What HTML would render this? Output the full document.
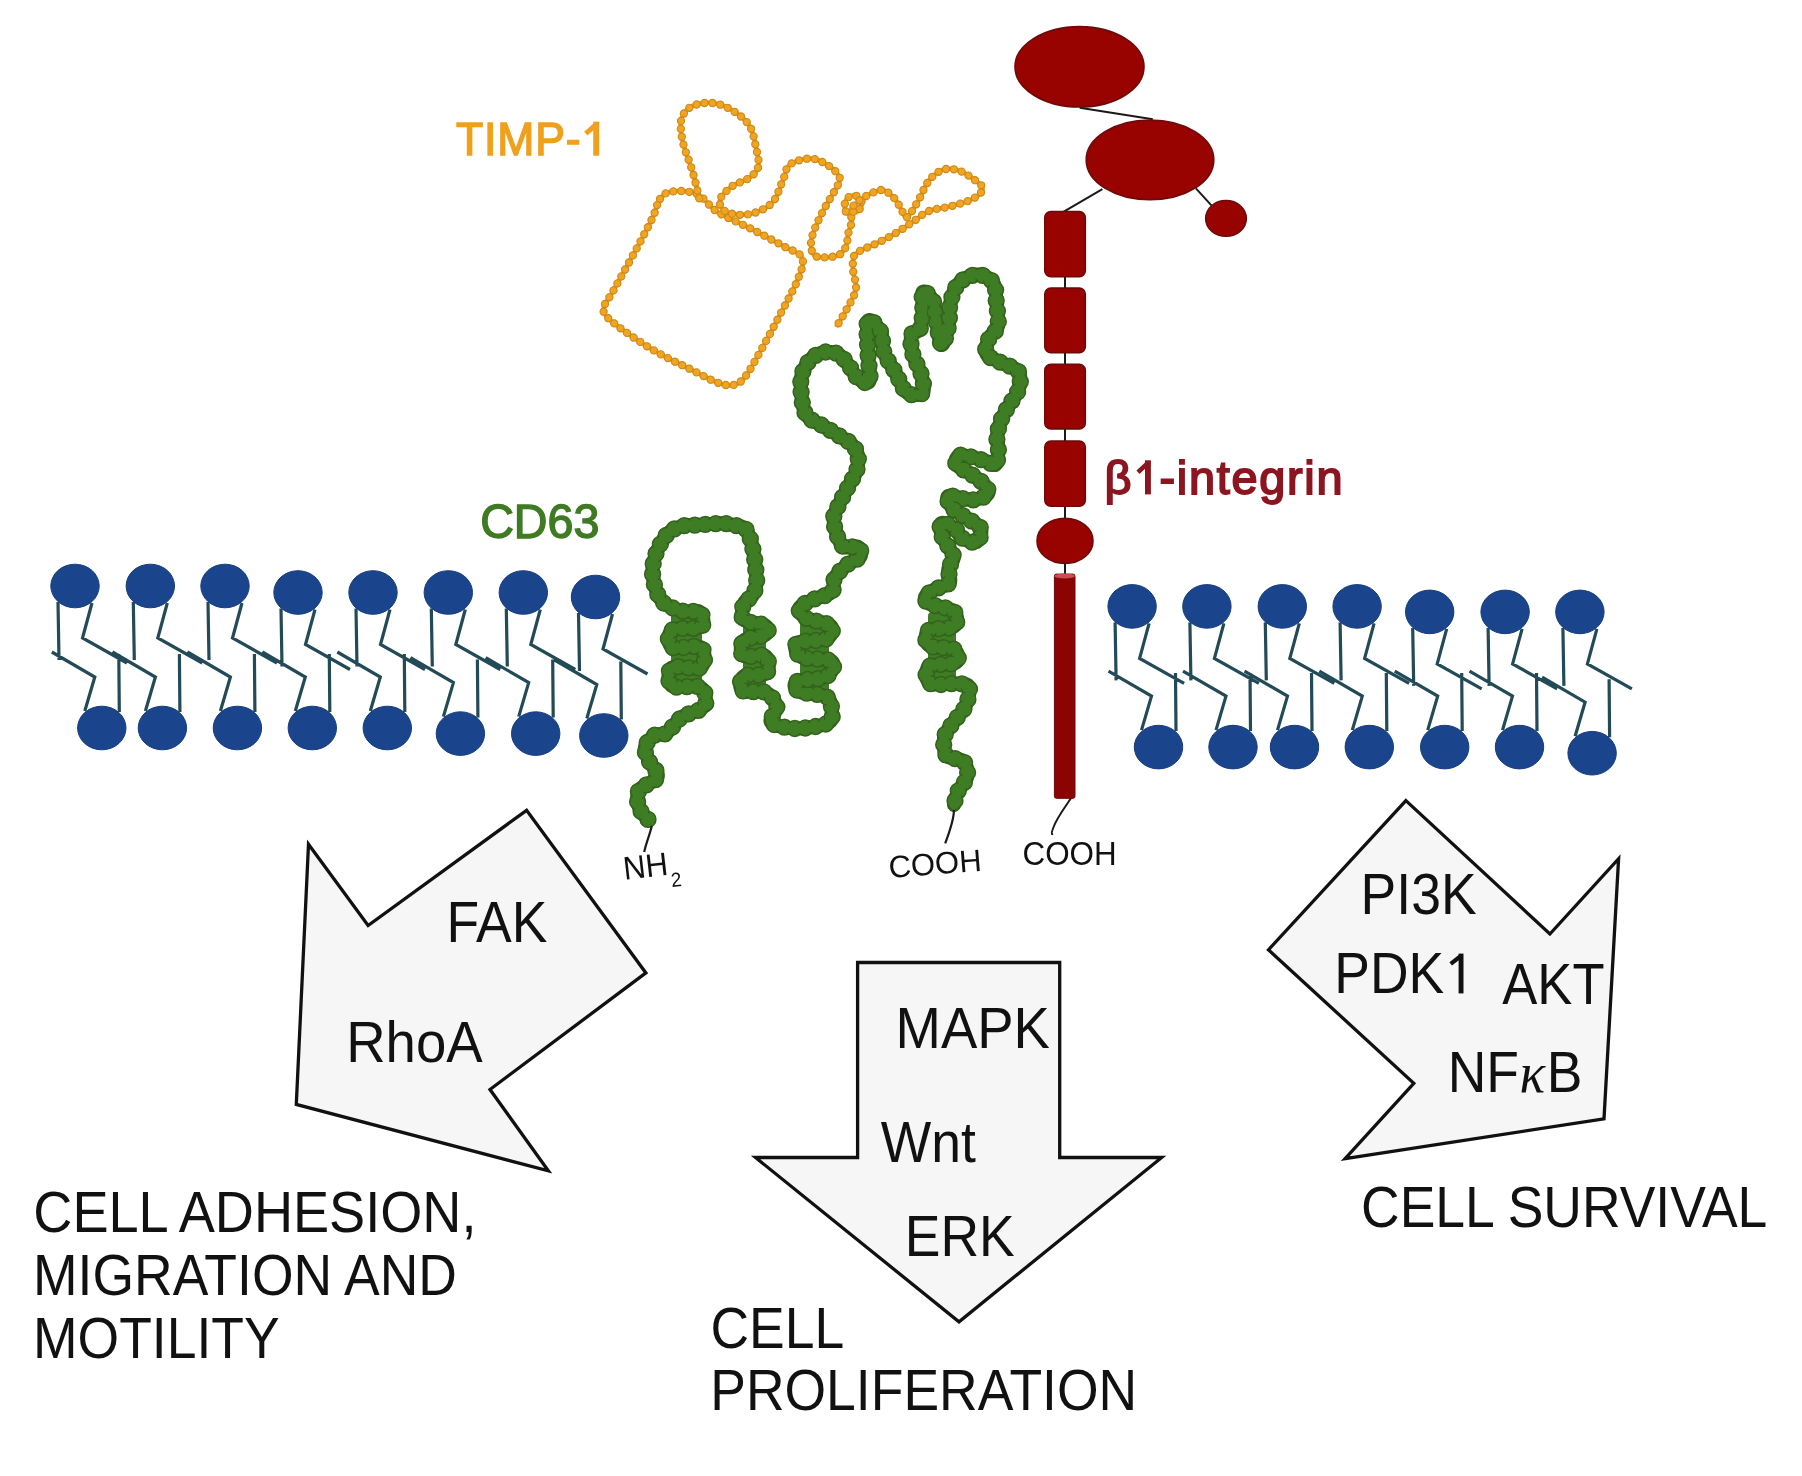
<!DOCTYPE html>
<html><head><meta charset="utf-8"><title>TIMP-1 CD63 integrin</title><style>html,body{margin:0;padding:0;background:#ffffff;overflow:hidden}svg{display:block;will-change:transform}</style></head><body>
<svg width="1802" height="1476" viewBox="0 0 1802 1476"><rect width="1802" height="1476" fill="#ffffff"/><path d="M58,602L59,660M92,603L82.5,638L127,663M119.3,712L118.8,654M51.8,652L94.8,677L84.8,711M133.3,602L134.3,660M167.3,603L157.8,638L202.3,663M179.9,712L179.4,654M112.4,652L155.4,677L145.4,711M208,602L209,660M242,603L232.5,638L277,663M254.9,712L254.4,654M187.4,652L230.4,677L220.4,711M281,608.5L282,666.5M315,609.5L305.5,644.5L350,669.5M329.8,712L329.3,654M262.3,652L305.3,677L295.3,711M356,608.5L357,666.5M390,609.5L380.5,644.5L425,669.5M404.8,712L404.3,654M337.3,652L380.3,677L370.3,711M431.3,608.5L432.3,666.5M465.3,609.5L455.8,644.5L500.3,669.5M477.9,717.6L477.4,659.6M410.4,657.6L453.4,682.6L443.4,716.6M506.3,608.5L507.3,666.5M540.3,609.5L530.8,644.5L575.3,669.5M553.2,717.6L552.7,659.6M485.7,657.6L528.7,682.6L518.7,716.6M578.5,613L579.5,671M612.5,614L603,649L647.5,674M621.3,719.5L620.8,661.5M553.8,659.5L596.8,684.5L586.8,718.5M1115.1,622.4L1116.1,680.4M1149.1,623.4L1139.6,658.4L1184.1,683.4M1176,731.1L1175.5,673.1M1108.5,671.1L1151.5,696.1L1141.5,730.1M1189.9,622.4L1190.9,680.4M1223.9,623.4L1214.4,658.4L1258.9,683.4M1250.5,731.1L1250,673.1M1183,671.1L1226,696.1L1216,730.1M1265.3,622.4L1266.3,680.4M1299.3,623.4L1289.8,658.4L1334.3,683.4M1312,731.1L1311.5,673.1M1244.5,671.1L1287.5,696.1L1277.5,730.1M1340.1,622.4L1341.1,680.4M1374.1,623.4L1364.6,658.4L1409.1,683.4M1386.8,731.1L1386.3,673.1M1319.3,671.1L1362.3,696.1L1352.3,730.1M1412.7,627.9L1413.7,685.9M1446.7,628.9L1437.2,663.9L1481.7,688.9M1462.2,731.1L1461.7,673.1M1394.7,671.1L1437.7,696.1L1427.7,730.1M1488.1,627.9L1489.1,685.9M1522.1,628.9L1512.6,663.9L1557.1,688.9M1537,731.1L1536.5,673.1M1469.5,671.1L1512.5,696.1L1502.5,730.1M1562.9,627.9L1563.9,685.9M1596.9,628.9L1587.4,663.9L1631.9,688.9M1609.6,737.2L1609.1,679.2M1542.1,677.2L1585.1,702.2L1575.1,736.2" fill="none" stroke="#234a57" stroke-width="3.2" stroke-linecap="butt" stroke-linejoin="miter"/>
<g fill="#1a458d" stroke="#173d7c" stroke-width="1"><ellipse cx="75" cy="586" rx="24.2" ry="21.8"/><ellipse cx="150.3" cy="586" rx="24.2" ry="21.8"/><ellipse cx="225" cy="586" rx="24.2" ry="21.8"/><ellipse cx="298" cy="592.5" rx="24.2" ry="21.8"/><ellipse cx="373" cy="592.5" rx="24.2" ry="21.8"/><ellipse cx="448.3" cy="592.5" rx="24.2" ry="21.8"/><ellipse cx="523.3" cy="592.5" rx="24.2" ry="21.8"/><ellipse cx="595.5" cy="597" rx="24.2" ry="21.8"/><ellipse cx="101.8" cy="728" rx="24.2" ry="21.8"/><ellipse cx="162.4" cy="728" rx="24.2" ry="21.8"/><ellipse cx="237.4" cy="728" rx="24.2" ry="21.8"/><ellipse cx="312.3" cy="728" rx="24.2" ry="21.8"/><ellipse cx="387.3" cy="728" rx="24.2" ry="21.8"/><ellipse cx="460.4" cy="733.6" rx="24.2" ry="21.8"/><ellipse cx="535.7" cy="733.6" rx="24.2" ry="21.8"/><ellipse cx="603.8" cy="735.5" rx="24.2" ry="21.8"/><ellipse cx="1132.1" cy="606.4" rx="24.2" ry="21.8"/><ellipse cx="1206.9" cy="606.4" rx="24.2" ry="21.8"/><ellipse cx="1282.3" cy="606.4" rx="24.2" ry="21.8"/><ellipse cx="1357.1" cy="606.4" rx="24.2" ry="21.8"/><ellipse cx="1429.7" cy="611.9" rx="24.2" ry="21.8"/><ellipse cx="1505.1" cy="611.9" rx="24.2" ry="21.8"/><ellipse cx="1579.9" cy="611.9" rx="24.2" ry="21.8"/><ellipse cx="1158.5" cy="747.1" rx="24.2" ry="21.8"/><ellipse cx="1233" cy="747.1" rx="24.2" ry="21.8"/><ellipse cx="1294.5" cy="747.1" rx="24.2" ry="21.8"/><ellipse cx="1369.3" cy="747.1" rx="24.2" ry="21.8"/><ellipse cx="1444.7" cy="747.1" rx="24.2" ry="21.8"/><ellipse cx="1519.5" cy="747.1" rx="24.2" ry="21.8"/><ellipse cx="1592.1" cy="753.2" rx="24.2" ry="21.8"/></g>
<g stroke="#1a1a1a" stroke-width="2" fill="none"><path d="M1079.7,107.8L1152.8,119.2"/><path d="M1102.4,189.1L1063.4,211.9"/><path d="M1195.9,188.3L1211.4,205.4"/><path d="M1065,276L1065,575"/><path d="M1071.7,797C1066,806 1058,816 1054,826S1052.5,832 1052.2,835"/></g>
<g fill="#980300" stroke="#6e0a0a" stroke-width="1.6"><ellipse cx="1079.5" cy="66.8" rx="64.5" ry="40.2"/><ellipse cx="1150" cy="159.9" rx="63.8" ry="39.8"/><ellipse cx="1226" cy="218.4" rx="20.3" ry="17.9"/><rect x="1044.8" y="211.6" width="40.5" height="65.2" rx="6"/><rect x="1044.8" y="288.1" width="40.5" height="64.7" rx="6"/><rect x="1044.8" y="364.4" width="40.5" height="64.5" rx="6"/><rect x="1044.8" y="441" width="40.5" height="65.2" rx="6"/><ellipse cx="1065" cy="540.9" rx="28" ry="22.5"/></g>
<rect x="1054.4" y="574.1" width="20.6" height="224.2" rx="2" fill="#8c0303" stroke="#6a0808" stroke-width="1"/>
<ellipse cx="1064.7" cy="576" rx="10.3" ry="2.6" fill="#c85050"/>
<path d="M660,199 661,197.7 661.9,196.5 662.9,195.5 663.9,194.6 664.9,193.8 666.1,193.2 667.3,192.6 668.7,192.2 670.3,191.8 672,191.5 674,191.3 676.2,191.1 678.7,191 681.3,191 684,191.2 686.7,191.4 689.4,191.8 692.1,192.3 694.6,193.1 697,194 699.2,195.2 701.2,196.6 703.1,198.3 704.9,200.2 706.8,202.2 708.6,204.2 710.6,206.3 712.7,208.3 714.9,210.2 717.4,212 720.1,213.7 723,215.3 726.1,216.9 729.2,218.4 732.5,219.9 735.8,221.5 739.2,223 742.6,224.6 746,226.2 749.3,227.9 752.7,229.7 756.2,231.5 759.9,233.4 763.5,235.3 767.2,237.3 770.8,239.2 774.2,241.1 777.5,242.9 780.6,244.5 783.4,246.1 786,247.5 788.5,248.7 790.8,249.7 793,250.7 795.1,251.6 796.9,252.6 798.5,253.6 800,254.7 801.1,256 802,257.5 802.6,259.1 802.9,260.8 803,262.5 802.8,264.3 802.5,266.3 801.9,268.3 801.2,270.5 800.3,272.9 799.4,275.4 798.3,278.2 797.1,281.2 795.6,284.5 793.9,288 792.1,291.7 790.2,295.5 788.1,299.4 786.1,303.3 784,307.2 782,311 780,314.8 778,318.6 776,322.4 774,326.3 771.9,330.2 769.8,334.1 767.7,338 765.7,341.7 763.7,345.3 761.8,348.8 760,352 758.3,355.1 756.6,358.1 755,360.9 753.5,363.7 752,366.3 750.5,368.8 749.1,371.1 747.7,373.3 746.3,375.2 745,377 743.7,378.5 742.5,379.9 741.4,381 740.3,381.9 739.2,382.7 738.1,383.4 737,383.9 735.9,384.3 734.6,384.7 733.3,385 731.9,385.2 730.6,385.4 729.2,385.4 727.8,385.3 726.3,385.1 724.8,384.9 723.1,384.5 721.4,384 719.5,383.3 717.4,382.6 715.1,381.7 712.7,380.6 710.2,379.4 707.5,378.1 704.7,376.7 701.8,375.2 698.9,373.6 695.9,372.1 693,370.5 690,369 687,367.5 683.9,366 680.7,364.4 677.5,362.9 674.2,361.3 670.9,359.7 667.7,358 664.5,356.4 661.4,354.7 658.3,353 655.3,351.3 652.3,349.5 649.4,347.7 646.4,345.9 643.5,344.1 640.7,342.2 637.9,340.4 635.2,338.6 632.6,336.8 630,335 627.5,333.2 624.9,331.4 622.4,329.6 619.9,327.8 617.5,326 615.2,324.3 613.1,322.6 611.2,321 609.5,319.4 608,318 606.8,316.7 605.8,315.6 605,314.5 604.4,313.6 603.9,312.7 603.6,311.8 603.4,310.8 603.4,309.8 603.5,308.7 603.7,307.5 604,306.2 604.4,305.1 605,303.9 605.7,302.7 606.6,301.5 607.5,300 608.6,298.4 609.9,296.5 611.3,294.2 612.8,291.6 614.5,288.5 616.6,284.9 618.8,280.8 621.2,276.6 623.7,272.1 626.2,267.5 628.7,263 631.1,258.6 633.4,254.4 635.5,250.6 637.4,247 639.3,243.5 641.2,240.1 643,236.7 644.7,233.5 646.3,230.4 647.9,227.3 649.3,224.4 650.7,221.6 652,219 653.1,216.5 654.1,214.1 654.9,211.8 655.6,209.6 656.3,207.5 656.9,205.5 657.6,203.7 658.3,202 659.1,200.4 660,199M699.2,198.3 698.8,196.7 698.3,194.6 697.7,192.1 697.1,189.3 696.4,186.4 695.6,183.2 694.8,180 694,176.9 693.2,173.9 692.4,171 691.6,168.2 690.6,165.5 689.6,162.7 688.6,159.9 687.6,157.1 686.6,154.3 685.6,151.6 684.7,148.9 683.9,146.2 683.3,143.7 682.7,141.2 682.2,138.7 681.8,136.3 681.3,133.9 681,131.5 680.8,129.2 680.6,127 680.6,124.9 680.7,122.9 681,121 681.4,119.2 681.9,117.5 682.5,115.9 683.3,114.4 684.1,113 685.1,111.7 686.2,110.5 687.4,109.3 688.7,108.3 690.1,107.3 691.7,106.4 693.5,105.6 695.4,104.9 697.5,104.3 699.6,103.8 701.9,103.3 704.1,103 706.3,102.8 708.5,102.8 710.6,102.8 712.7,103 714.7,103.3 716.8,103.7 718.9,104.3 721,104.9 723.1,105.7 725.1,106.5 727.1,107.5 729.1,108.5 731.1,109.6 733.1,110.8 735.1,112.1 737.1,113.5 739.1,115 741.1,116.5 743,118.2 744.8,119.9 746.4,121.7 748,123.6 749.3,125.5 750.5,127.5 751.5,129.7 752.3,132 753.1,134.3 753.7,136.8 754.3,139.2 754.7,141.6 755.2,143.9 755.7,146.2 756.1,148.3 756.6,150.3 757,152.3 757.5,154.3 757.9,156.2 758.2,158.1 758.5,159.9 758.7,161.7 758.7,163.4 758.7,165 758.4,166.5 758,167.9 757.5,169.2 756.8,170.5 756,171.6 755.1,172.7 754.1,173.8 753.1,174.8 751.9,175.8 750.6,176.8 749.3,177.8 747.8,178.8 746.1,179.7 744.3,180.5 742.3,181.4 740.3,182.2 738.3,183 736.3,183.9 734.5,184.8 732.7,185.8 731.1,186.9 729.6,188.1 728.1,189.4 726.6,190.7 725.2,192.2 723.8,193.6 722.6,195.1 721.6,196.5 720.7,197.9 720.1,199.3 719.7,200.6 719.6,201.9 719.6,203.2 719.9,204.5 720.3,205.8 721,207 721.8,208.2 722.7,209.3 723.8,210.3 725.1,211.2 726.5,212 728.1,212.7 730,213.2 732.2,213.8 734.5,214.2 736.9,214.5 739.4,214.7 742,214.8 744.5,214.8 747,214.6 749.3,214.2 751.6,213.7 754,213 756.5,212.2 758.9,211.2 761.4,210.1 763.8,208.9 766.1,207.6 768.2,206.1 770.2,204.6 772,202.9 773.6,201 775,198.9 776.3,196.6 777.4,194.2 778.5,191.7 779.5,189.2 780.4,186.7 781.3,184.3 782.1,182 783,180 783.8,178.1 784.4,176.3 784.9,174.6 785.4,172.9 785.8,171.3 786.3,169.8 786.9,168.4 787.6,167.1 788.6,165.8 789.8,164.7 791.3,163.7 793.1,162.7 795.1,161.7 797.2,160.9 799.4,160.2 801.7,159.6 804,159.1 806.3,158.7 808.5,158.5 810.5,158.5 812.5,158.7 814.4,159 816.4,159.6 818.3,160.3 820.3,161.1 822.1,161.9 823.9,162.9 825.6,163.9 827.3,164.9 828.8,165.9 830.3,166.9 831.7,168 833.1,169.2 834.5,170.4 835.8,171.7 836.9,173 837.9,174.3 838.7,175.6 839.4,176.9 839.8,178.1 840,179.3 840,180.4 839.8,181.4 839.4,182.5 838.8,183.5 838.2,184.7 837.5,185.9 836.6,187.2 835.8,188.7 834.9,190.3 833.9,192.1 832.8,194.1 831.5,196.3 830.2,198.5 828.8,200.9 827.4,203.3 825.9,205.7 824.5,208.2 823.2,210.6 822,213 820.8,215.4 819.6,218 818.4,220.6 817.1,223.2 816,225.9 814.9,228.5 813.9,231 813,233.5 812.2,235.8 811.7,237.9 811.3,239.9 811.1,241.9 811,243.7 811,245.5 811.1,247.2 811.3,248.8 811.6,250.2 812,251.6 812.5,252.7 813,253.8 813.6,254.7 814.3,255.4 815.1,256 816,256.4 816.9,256.7 818,257 819.1,257.1 820.2,257.3 821.4,257.3 822.7,257.4 824.1,257.4 825.6,257.4 827.3,257.3 829,257.2 830.8,257 832.6,256.7 834.3,256.4 835.9,256 837.3,255.5 838.6,255 839.7,254.4 840.7,253.8 841.6,253.1 842.4,252.3 843.1,251.4 843.8,250.6 844.4,249.6 845,248.6 845.5,247.6 846,246.5 846.4,245.4 846.8,244.1 847,242.8 847.3,241.5 847.4,240.1 847.6,238.7 847.7,237.2 847.9,235.8 848.1,234.4 848.4,233 848.8,231.6 849.2,230.2 849.7,228.7 850.3,227.2 850.8,225.7 851.3,224.3 851.7,222.8 851.9,221.5 852.1,220.2 852,219 851.7,217.9 851.1,216.9 850.4,216 849.6,215.1 848.6,214.3 847.7,213.5 846.8,212.7 846,211.8 845.4,211 845,210 844.8,208.9 844.6,207.8 844.6,206.6 844.6,205.4 844.8,204.2 845,203 845.2,201.8 845.6,200.8 846,199.8 846.5,199 847.1,198.3 847.9,197.6 848.7,197.1 849.7,196.5 850.7,196.1 851.7,195.7 852.7,195.5 853.7,195.4 854.7,195.4 855.5,195.5 856.3,195.8 857.1,196.3 858,196.9 858.8,197.6 859.6,198.5 860.3,199.4 861,200.3 861.5,201.2 861.8,202.1 862,203 862,203.9 861.8,204.9 861.4,206 860.9,207.1 860.3,208.2 859.6,209.2 858.9,210.1 858.2,210.9 857.6,211.6 857,212 856.4,212.2 855.6,212.3 854.8,212.2 854,212 853.1,211.6 852.4,211.2 851.7,210.7 851.3,210.2 851,209.6 851,209 851.3,208.3 851.8,207.6 852.5,206.7 853.3,205.8 854.3,204.8 855.4,203.8 856.5,202.8 857.7,201.8 858.9,200.9 860,200 861.1,199.2 862.3,198.4 863.6,197.5 864.9,196.7 866.3,195.9 867.6,195.2 869,194.5 870.3,193.8 871.6,193.2 872.8,192.7 874,192.2 875.1,191.7 876.2,191.3 877.3,190.9 878.4,190.5 879.5,190.2 880.6,190.1 881.6,190 882.7,190.1 883.8,190.3 884.9,190.7 886.1,191.2 887.2,191.9 888.4,192.7 889.5,193.6 890.7,194.6 891.8,195.6 892.8,196.7 893.8,197.8 894.8,198.8 895.7,199.9 896.5,201.1 897.3,202.4 898.1,203.7 898.8,205 899.5,206.4 900.2,207.7 900.9,208.9 901.5,210 902.1,211 902.7,212 903.1,213 903.6,214 903.9,215 904.3,215.9 904.7,216.6 905.2,217.2 905.7,217.5 906.3,217.5 907,217.2 907.9,216.5 908.8,215.5 909.9,214.2 911,212.7 912.1,210.9 913.3,209.1 914.5,207.1 915.7,205.1 916.9,203.2 918,201.3 919.1,199.4 920.1,197.3 921.2,195.1 922.2,192.9 923.3,190.6 924.3,188.3 925.4,186.2 926.6,184.1 927.8,182.2 929,180.5 930.3,178.9 931.7,177.5 933.1,176.1 934.5,174.8 936,173.6 937.5,172.5 939,171.6 940.5,170.8 942.1,170.1 943.6,169.5 945.1,169.1 946.7,168.8 948.3,168.7 949.9,168.7 951.5,168.9 953.1,169.1 954.7,169.4 956.3,169.8 957.9,170.3 959.5,170.8 961.1,171.4 962.8,172.2 964.5,173.1 966.3,174.1 968,175.2 969.7,176.3 971.3,177.4 972.8,178.5 974.2,179.5 975.4,180.5 976.6,181.4 977.7,182.3 978.8,183.1 979.8,184 980.7,184.8 981.4,185.6 982,186.5 982.5,187.3 982.7,188.2 982.7,189.1 982.5,190 982,191 981.4,192 980.6,193 979.6,194 978.5,195 977.3,196 975.9,197 974.5,197.9 972.9,198.8 971.2,199.6 969.3,200.5 967.2,201.3 965,202.1 962.7,202.8 960.3,203.5 957.9,204.2 955.5,204.9 953.2,205.6 950.9,206.2 948.7,206.8 946.4,207.2 944.1,207.7 941.8,208.1 939.5,208.4 937.2,208.8 935,209.3 932.9,209.8 930.9,210.3 929,211 927.3,211.8 925.7,212.6 924.2,213.5 922.8,214.4 921.4,215.4 920.1,216.5 918.7,217.5 917.4,218.6 915.9,219.7 914.3,220.8 912.6,221.9 910.9,223.1 909.1,224.4 907.2,225.6 905.4,226.9 903.5,228.2 901.6,229.4 899.7,230.7 897.8,231.9 896,233 894.2,234.1 892.3,235.1 890.5,236.2 888.7,237.2 886.9,238.1 885,239.1 883.2,240 881.4,241 879.5,241.9 877.7,242.8 875.8,243.7 873.8,244.6 871.8,245.5 869.8,246.4 867.8,247.2 865.8,248.1 864,248.9 862.3,249.7 860.7,250.5 859.4,251.3 858.3,252 857.3,252.6 856.5,253.2 855.8,253.8 855.2,254.3 854.7,254.9 854.3,255.5 853.9,256.2 853.6,257 853.3,258 853,259.1 852.9,260.3 852.8,261.6 852.7,262.9 852.8,264.3 852.8,265.8 852.9,267.3 853,268.9 853.2,270.5 853.3,272.1 853.5,273.7 853.9,275.4 854.3,277.1 854.8,278.8 855.3,280.6 855.7,282.4 856,284.3 856.1,286.3 856,288.3 855.7,290.4 855,292.6 854.1,295.1 853,297.7 851.6,300.3 850.2,303 848.7,305.6 847.3,308.2 845.9,310.6 844.6,312.8 843.5,314.8 842.5,316.6 841.6,318.2 840.7,319.7 839.9,321.1 839.1,322.4 838.4,323.6 837.7,324.6 837.1,325.5 836.6,326.3 836.2,327" fill="none" stroke="#f2a31f" stroke-width="4.5" stroke-linejoin="round"/>
<g fill="#f2a31f" stroke="#c98a1c" stroke-width="1.1"><circle cx="660" cy="199" r="3.6"/><circle cx="665.6" cy="193.4" r="3.6"/><circle cx="673.3" cy="191.4" r="3.6"/><circle cx="681.3" cy="191" r="3.6"/><circle cx="689.3" cy="191.8" r="3.6"/><circle cx="696.9" cy="194" r="3.6"/><circle cx="703.4" cy="198.6" r="3.6"/><circle cx="708.9" cy="204.5" r="3.6"/><circle cx="714.6" cy="210" r="3.6"/><circle cx="721.3" cy="214.3" r="3.6"/><circle cx="728.4" cy="218" r="3.6"/><circle cx="735.7" cy="221.4" r="3.6"/><circle cx="742.9" cy="224.8" r="3.6"/><circle cx="750.1" cy="228.3" r="3.6"/><circle cx="757.2" cy="232" r="3.6"/><circle cx="764.3" cy="235.7" r="3.6"/><circle cx="771.3" cy="239.5" r="3.6"/><circle cx="778.4" cy="243.3" r="3.6"/><circle cx="785.4" cy="247.2" r="3.6"/><circle cx="792.6" cy="250.5" r="3.6"/><circle cx="799.6" cy="254.4" r="3.6"/><circle cx="802.9" cy="261.4" r="3.6"/><circle cx="801.6" cy="269.3" r="3.6"/><circle cx="798.8" cy="276.8" r="3.6"/><circle cx="795.8" cy="284.2" r="3.6"/><circle cx="792.3" cy="291.4" r="3.6"/><circle cx="788.6" cy="298.5" r="3.6"/><circle cx="784.9" cy="305.5" r="3.6"/><circle cx="781.1" cy="312.6" r="3.6"/><circle cx="777.4" cy="319.7" r="3.6"/><circle cx="773.7" cy="326.8" r="3.6"/><circle cx="769.9" cy="333.9" r="3.6"/><circle cx="766.1" cy="340.9" r="3.6"/><circle cx="762.3" cy="347.9" r="3.6"/><circle cx="758.4" cy="354.9" r="3.6"/><circle cx="754.5" cy="361.9" r="3.6"/><circle cx="750.5" cy="368.8" r="3.6"/><circle cx="746.1" cy="375.5" r="3.6"/><circle cx="740.8" cy="381.5" r="3.6"/><circle cx="733.7" cy="384.9" r="3.6"/><circle cx="725.8" cy="385" r="3.6"/><circle cx="718.1" cy="382.8" r="3.6"/><circle cx="710.7" cy="379.7" r="3.6"/><circle cx="703.6" cy="376.1" r="3.6"/><circle cx="696.5" cy="372.4" r="3.6"/><circle cx="689.4" cy="368.7" r="3.6"/><circle cx="682.2" cy="365.2" r="3.6"/><circle cx="675" cy="361.7" r="3.6"/><circle cx="667.9" cy="358.1" r="3.6"/><circle cx="660.8" cy="354.4" r="3.6"/><circle cx="653.8" cy="350.4" r="3.6"/><circle cx="647" cy="346.3" r="3.6"/><circle cx="640.3" cy="341.9" r="3.6"/><circle cx="633.6" cy="337.5" r="3.6"/><circle cx="627" cy="332.9" r="3.6"/><circle cx="620.5" cy="328.3" r="3.6"/><circle cx="614.2" cy="323.4" r="3.6"/><circle cx="608.2" cy="318.2" r="3.6"/><circle cx="603.6" cy="311.7" r="3.6"/><circle cx="605" cy="304" r="3.6"/><circle cx="609.4" cy="297.3" r="3.6"/><circle cx="613.5" cy="290.4" r="3.6"/><circle cx="617.4" cy="283.4" r="3.6"/><circle cx="621.3" cy="276.4" r="3.6"/><circle cx="625.1" cy="269.5" r="3.6"/><circle cx="629" cy="262.5" r="3.6"/><circle cx="632.9" cy="255.4" r="3.6"/><circle cx="636.7" cy="248.4" r="3.6"/><circle cx="640.5" cy="241.4" r="3.6"/><circle cx="644.2" cy="234.3" r="3.6"/><circle cx="647.9" cy="227.2" r="3.6"/><circle cx="651.5" cy="220" r="3.6"/><circle cx="654.6" cy="212.7" r="3.6"/><circle cx="657.1" cy="205.1" r="3.6"/><circle cx="699.2" cy="198.3" r="3.6"/><circle cx="697.4" cy="190.5" r="3.6"/><circle cx="695.5" cy="182.7" r="3.6"/><circle cx="693.5" cy="175" r="3.6"/><circle cx="691.2" cy="167.3" r="3.6"/><circle cx="688.6" cy="159.8" r="3.6"/><circle cx="685.8" cy="152.3" r="3.6"/><circle cx="683.5" cy="144.6" r="3.6"/><circle cx="681.8" cy="136.8" r="3.6"/><circle cx="680.8" cy="128.9" r="3.6"/><circle cx="681" cy="120.9" r="3.6"/><circle cx="683.9" cy="113.5" r="3.6"/><circle cx="689.4" cy="107.8" r="3.6"/><circle cx="696.7" cy="104.5" r="3.6"/><circle cx="704.5" cy="103" r="3.6"/><circle cx="712.5" cy="103" r="3.6"/><circle cx="720.3" cy="104.7" r="3.6"/><circle cx="727.7" cy="107.8" r="3.6"/><circle cx="734.6" cy="111.8" r="3.6"/><circle cx="741" cy="116.5" r="3.6"/><circle cx="746.7" cy="122.1" r="3.6"/><circle cx="751.1" cy="128.8" r="3.6"/><circle cx="753.6" cy="136.4" r="3.6"/><circle cx="755.3" cy="144.2" r="3.6"/><circle cx="757" cy="152" r="3.6"/><circle cx="758.5" cy="159.9" r="3.6"/><circle cx="758" cy="167.8" r="3.6"/><circle cx="753.6" cy="174.3" r="3.6"/><circle cx="747.2" cy="179.1" r="3.6"/><circle cx="739.9" cy="182.4" r="3.6"/><circle cx="732.7" cy="185.8" r="3.6"/><circle cx="726.5" cy="190.9" r="3.6"/><circle cx="721.3" cy="196.9" r="3.6"/><circle cx="719.9" cy="204.5" r="3.6"/><circle cx="724.6" cy="210.9" r="3.6"/><circle cx="732" cy="213.7" r="3.6"/><circle cx="739.9" cy="214.8" r="3.6"/><circle cx="747.9" cy="214.4" r="3.6"/><circle cx="755.6" cy="212.5" r="3.6"/><circle cx="763" cy="209.3" r="3.6"/><circle cx="769.7" cy="205" r="3.6"/><circle cx="775" cy="199" r="3.6"/><circle cx="778.4" cy="191.8" r="3.6"/><circle cx="781.2" cy="184.3" r="3.6"/><circle cx="784.2" cy="176.9" r="3.6"/><circle cx="786.5" cy="169.3" r="3.6"/><circle cx="791.7" cy="163.4" r="3.6"/><circle cx="799.1" cy="160.3" r="3.6"/><circle cx="806.9" cy="158.7" r="3.6"/><circle cx="814.8" cy="159.1" r="3.6"/><circle cx="822.3" cy="162" r="3.6"/><circle cx="829.1" cy="166.1" r="3.6"/><circle cx="835.3" cy="171.2" r="3.6"/><circle cx="839.7" cy="177.8" r="3.6"/><circle cx="837.8" cy="185.3" r="3.6"/><circle cx="833.9" cy="192.2" r="3.6"/><circle cx="829.8" cy="199.1" r="3.6"/><circle cx="825.8" cy="206" r="3.6"/><circle cx="822" cy="213.1" r="3.6"/><circle cx="818.5" cy="220.3" r="3.6"/><circle cx="815.2" cy="227.6" r="3.6"/><circle cx="812.5" cy="235.1" r="3.6"/><circle cx="811" cy="242.9" r="3.6"/><circle cx="811.8" cy="250.8" r="3.6"/><circle cx="816.7" cy="256.7" r="3.6"/><circle cx="824.6" cy="257.4" r="3.6"/><circle cx="832.6" cy="256.7" r="3.6"/><circle cx="840.1" cy="254.2" r="3.6"/><circle cx="845.2" cy="248.1" r="3.6"/><circle cx="847.4" cy="240.5" r="3.6"/><circle cx="848.5" cy="232.6" r="3.6"/><circle cx="851" cy="225" r="3.6"/><circle cx="851.3" cy="217.2" r="3.6"/><circle cx="845.8" cy="211.5" r="3.6"/><circle cx="844.8" cy="203.8" r="3.6"/><circle cx="848.7" cy="197.1" r="3.6"/><circle cx="856.3" cy="195.8" r="3.6"/><circle cx="861.6" cy="201.6" r="3.6"/><circle cx="859.7" cy="209" r="3.6"/><circle cx="853.2" cy="211.7" r="3.6"/><circle cx="853.5" cy="205.6" r="3.6"/><circle cx="859.5" cy="200.3" r="3.6"/><circle cx="866.2" cy="196" r="3.6"/><circle cx="873.4" cy="192.4" r="3.6"/><circle cx="881" cy="190" r="3.6"/><circle cx="888.3" cy="192.7" r="3.6"/><circle cx="894.2" cy="198.1" r="3.6"/><circle cx="898.7" cy="204.7" r="3.6"/><circle cx="902.5" cy="211.8" r="3.6"/><circle cx="907" cy="217.2" r="3.6"/><circle cx="912" cy="211.1" r="3.6"/><circle cx="916.2" cy="204.3" r="3.6"/><circle cx="920.1" cy="197.3" r="3.6"/><circle cx="923.5" cy="190" r="3.6"/><circle cx="927.3" cy="183" r="3.6"/><circle cx="932.3" cy="176.8" r="3.6"/><circle cx="938.6" cy="171.8" r="3.6"/><circle cx="946" cy="169" r="3.6"/><circle cx="953.9" cy="169.3" r="3.6"/><circle cx="961.6" cy="171.6" r="3.6"/><circle cx="968.5" cy="175.6" r="3.6"/><circle cx="975" cy="180.2" r="3.6"/><circle cx="981.2" cy="185.3" r="3.6"/><circle cx="981" cy="192.5" r="3.6"/><circle cx="974.9" cy="197.6" r="3.6"/><circle cx="967.7" cy="201.1" r="3.6"/><circle cx="960.2" cy="203.6" r="3.6"/><circle cx="952.5" cy="205.8" r="3.6"/><circle cx="944.7" cy="207.6" r="3.6"/><circle cx="936.8" cy="208.9" r="3.6"/><circle cx="929.1" cy="211" r="3.6"/><circle cx="922.1" cy="214.9" r="3.6"/><circle cx="915.8" cy="219.8" r="3.6"/><circle cx="909.2" cy="224.3" r="3.6"/><circle cx="902.6" cy="228.8" r="3.6"/><circle cx="895.8" cy="233.1" r="3.6"/><circle cx="888.9" cy="237.1" r="3.6"/><circle cx="881.8" cy="240.8" r="3.6"/><circle cx="874.6" cy="244.3" r="3.6"/><circle cx="867.3" cy="247.5" r="3.6"/><circle cx="860" cy="250.9" r="3.6"/><circle cx="854" cy="256" r="3.6"/><circle cx="852.8" cy="263.8" r="3.6"/><circle cx="853.3" cy="271.8" r="3.6"/><circle cx="855" cy="279.6" r="3.6"/><circle cx="856.1" cy="287.5" r="3.6"/><circle cx="854.1" cy="295.2" r="3.6"/><circle cx="850.5" cy="302.4" r="3.6"/><circle cx="846.6" cy="309.3" r="3.6"/><circle cx="842.7" cy="316.3" r="3.6"/><circle cx="838.6" cy="323.2" r="3.6"/></g>
<g fill="#3f7d25"><rect x="671" y="613" width="31" height="74" rx="4"/><rect x="743" y="620" width="23" height="72" rx="4"/><rect x="800" y="622" width="29" height="73" rx="4"/><rect x="928" y="612" width="28" height="71" rx="4"/></g>
<path d="M648,819.4 647.4,818.7 646.6,817.9 645.7,816.9 644.6,815.8 643.5,814.5 642.4,813.2 641.3,811.8 640.4,810.4 639.6,809 639,807.5 638.6,806 638.1,804.3 637.7,802.6 637.5,800.8 637.3,799 637.2,797.2 637.3,795.3 637.7,793.6 638.2,791.9 639,790.3 640.2,788.8 642,787.4 644.1,786.1 646.5,784.8 648.9,783.5 651.3,782.3 653.5,781 655.4,779.7 656.9,778.3 657.7,776.9 657.9,775.4 657.6,773.8 656.9,772.1 655.9,770.4 654.7,768.7 653.3,767 652,765.3 650.7,763.6 649.6,762 648.8,760.5 648.2,759 647.5,757.6 646.9,756.2 646.3,754.8 645.7,753.5 645.3,752.1 645,750.8 644.8,749.5 644.8,748.3 645,747 645.4,745.7 646,744.4 646.8,743 647.8,741.7 648.9,740.4 650,739.1 651.2,738 652.4,736.9 653.6,736 654.7,735.2 655.8,734.7 656.9,734.4 658,734.3 659.2,734.3 660.3,734.3 661.5,734.4 662.7,734.3 664,734.2 665.3,733.7 666.6,733 668,731.9 669.4,730.6 670.8,729 672.2,727.3 673.7,725.5 675.2,723.6 676.8,721.8 678.4,720.1 680,718.6 681.6,717.3 683.3,716.2 685.2,715.3 687.1,714.5 689.1,713.7 691,713.1 693,712.4 694.8,711.8 696.5,711.2 698.1,710.5 699.4,709.8 700.6,709.1 701.6,708.4 702.6,707.7 703.5,707 704.2,706.4 704.8,705.7 705.3,704.9 705.7,704 705.9,703.1 706,702 706,700.7 706,699.2 705.8,697.6 705.6,695.8 705.2,694.1 704.6,692.3 703.8,690.7 702.8,689.2 701.5,688 700,687 698,686.4 695.4,686.2 692.3,686.2 689,686.4 685.6,686.7 682.2,687 679,687.1 676.2,687.1 673.8,686.7 672,686 670.7,684.8 669.7,683.1 669,681.2 668.6,679 668.4,676.7 668.6,674.4 669,672.2 669.7,670.3 670.7,668.7 672,667.5 673.9,666.8 676.4,666.6 679.5,666.8 682.9,667.1 686.5,667.6 690.1,668.1 693.5,668.4 696.6,668.5 699.1,668.2 701,667.5 702.3,666.2 703.3,664.4 704,662.3 704.5,659.9 704.6,657.4 704.5,654.9 704,652.5 703.3,650.4 702.3,648.6 701,647.3 699.1,646.6 696.6,646.3 693.5,646.4 690.1,646.7 686.5,647.1 682.9,647.6 679.5,647.9 676.4,648.1 673.9,647.9 672,647.3 670.7,646.2 669.7,644.7 669,642.9 668.5,640.9 668.4,638.8 668.5,636.7 669,634.7 669.7,632.8 670.7,631.2 672,630 673.9,629.2 676.4,628.7 679.5,628.4 683,628.3 686.6,628.4 690.2,628.4 693.6,628.3 696.7,628.1 699.2,627.7 701,627 702.2,625.9 703,624.5 703.4,622.9 703.5,621.2 703.3,619.3 702.9,617.5 702.3,615.8 701.6,614.3 700.8,613 700,612 699,611.4 697.8,611.1 696.4,611 694.8,611.1 693.1,611.3 691.3,611.5 689.5,611.7 687.6,611.8 685.8,611.8 684,611.5 682.2,611.1 680.2,610.5 678.2,609.9 676.1,609.2 674,608.5 672,607.7 670,606.8 668.2,605.9 666.5,605 665,604 663.7,603 662.6,601.9 661.6,600.9 660.7,599.7 659.9,598.5 659.1,597.3 658.5,596 657.8,594.6 657.2,593.1 656.6,591.6 656,589.9 655.4,588.1 654.8,586.2 654.3,584.2 653.9,582.2 653.5,580.2 653.1,578.1 652.8,576.1 652.6,574.2 652.5,572.4 652.5,570.7 652.5,569 652.7,567.3 652.9,565.7 653.1,564.1 653.4,562.6 653.8,561 654.2,559.5 654.6,558.1 655,556.6 655.4,555.2 655.9,553.8 656.4,552.4 656.9,551 657.5,549.7 658.1,548.4 658.7,547.1 659.4,545.8 660.1,544.6 660.8,543.3 661.6,542 662.4,540.8 663.2,539.5 664,538.2 664.9,537 665.9,535.8 666.8,534.6 667.8,533.5 668.9,532.5 670,531.6 671.2,530.8 672.4,530 673.7,529.3 675,528.6 676.4,528 677.8,527.5 679.2,527 680.6,526.5 682,526.2 683.3,525.8 684.6,525.5 686,525.3 687.3,525.2 688.6,525.1 689.9,525.1 691.3,525.1 692.6,525.1 693.9,525.1 695.3,525.1 696.6,525 697.9,524.9 699.3,524.8 700.6,524.7 702,524.6 703.3,524.5 704.7,524.5 706,524.4 707.3,524.3 708.6,524.2 709.9,524.1 711.1,524 712.3,523.9 713.5,523.8 714.7,523.7 715.9,523.5 717,523.4 718.1,523.4 719.3,523.3 720.4,523.3 721.6,523.3 722.8,523.4 723.9,523.5 725.1,523.6 726.2,523.7 727.4,523.9 728.6,524.1 729.7,524.3 730.9,524.5 732,524.8 733.2,525 734.4,525.2 735.6,525.4 736.9,525.6 738.2,525.8 739.4,526 740.6,526.3 741.8,526.6 742.9,527.1 744,527.6 744.9,528.3 745.7,529.1 746.5,530 747.2,531.1 747.8,532.2 748.3,533.4 748.8,534.7 749.3,536 749.8,537.3 750.2,538.7 750.7,540 751.1,541.4 751.5,542.8 751.9,544.3 752.3,545.8 752.6,547.3 752.9,548.9 753.2,550.5 753.5,552 753.7,553.5 754,555 754.2,556.4 754.5,557.9 754.7,559.3 754.8,560.7 755,562.1 755.2,563.5 755.3,564.9 755.4,566.3 755.6,567.7 755.7,569.1 755.8,570.5 756,571.9 756.2,573.4 756.3,574.8 756.5,576.2 756.6,577.7 756.6,579.1 756.7,580.5 756.6,581.8 756.5,583.2 756.3,584.6 756.1,585.9 755.8,587.3 755.4,588.7 755,590 754.6,591.3 754.1,592.6 753.6,593.8 753,595 752.4,596 751.7,596.9 750.9,597.7 749.9,598.3 749,598.8 748,599.4 747,599.9 746.1,600.5 745.2,601.3 744.5,602.1 744,603.2 743.5,604.5 743,606 742.6,607.7 742.2,609.6 741.9,611.4 741.7,613.3 741.7,615.1 742,616.7 742.6,618.2 743.5,619.5 744.9,620.5 746.8,621.3 749.1,622 751.7,622.5 754.5,623 757.2,623.4 759.8,623.9 762.1,624.4 764.1,624.9 765.5,625.6 766.5,626.4 767.3,627.3 767.8,628.2 768.1,629.2 768.2,630.2 768.1,631.1 767.8,632.1 767.3,633 766.5,633.9 765.5,634.7 764.1,635.4 762.2,636 759.8,636.5 757.2,636.9 754.5,637.4 751.8,637.8 749.2,638.4 746.8,639 744.9,639.8 743.5,640.8 742.5,642 741.7,643.5 741.2,645.2 740.9,647 740.8,648.8 740.9,650.6 741.2,652.3 741.7,653.8 742.5,655.1 743.5,656 744.9,656.5 746.8,656.7 749.1,656.6 751.7,656.3 754.4,655.9 757.2,655.5 759.8,655.2 762.1,655.1 764.1,655.4 765.5,656 766.6,657.1 767.4,658.6 768.1,660.4 768.6,662.4 768.8,664.5 768.8,666.6 768.6,668.6 768.2,670.5 767.5,672.1 766.5,673.3 765.1,674.1 763.1,674.7 760.7,674.9 758,675 755.1,675 752.3,675 749.5,675.1 747.1,675.3 745,675.7 743.5,676.4 742.4,677.4 741.5,678.7 740.8,680.2 740.3,681.9 740.1,683.6 740.1,685.3 740.3,686.9 740.8,688.4 741.5,689.6 742.5,690.6 743.9,691.2 745.8,691.6 748.1,691.7 750.7,691.7 753.5,691.6 756.3,691.5 759.1,691.5 761.7,691.6 764.1,692 766,692.6 767.7,693.5 769.3,694.6 770.7,695.9 772.1,697.3 773.3,698.9 774.4,700.5 775.3,702.1 776,703.7 776.6,705.3 776.9,706.8 776.9,708.3 776.3,709.9 775.5,711.6 774.4,713.3 773.3,715 772.2,716.6 771.2,718.2 770.6,719.6 770.4,720.9 770.8,722.1 771.8,723.1 773.2,724 774.9,724.8 777,725.5 779.3,726.2 781.7,726.7 784.2,727.2 786.6,727.6 789,727.9 791.1,728.2 793.1,728.4 795.2,728.5 797.3,728.6 799.3,728.5 801.4,728.4 803.4,728.2 805.5,728 807.5,727.8 809.5,727.5 811.4,727.2 813.4,726.9 815.4,726.5 817.5,726.1 819.6,725.7 821.7,725.2 823.6,724.7 825.5,724.1 827.1,723.5 828.5,722.8 829.7,722.1 830.6,721.3 831.3,720.5 831.7,719.6 832.1,718.6 832.2,717.6 832.3,716.6 832.2,715.5 832.1,714.3 832,713.1 831.8,711.9 831.7,710.5 831.6,709 831.5,707.4 831.4,705.7 831.1,704 830.7,702.3 830.1,700.7 829.3,699.2 828.1,697.8 826.7,696.7 824.7,695.8 822.2,695.1 819.3,694.6 816.1,694.2 812.8,693.8 809.4,693.5 806.3,693.2 803.4,692.8 801,692.3 799.2,691.6 797.8,690.8 796.7,689.8 795.7,688.8 795.1,687.6 794.6,686.5 794.5,685.4 794.7,684.2 795.2,683.2 796,682.2 797.2,681.4 799,680.7 801.5,680.2 804.5,679.8 807.9,679.5 811.5,679.2 815.1,678.9 818.7,678.5 821.9,678 824.6,677.3 826.7,676.4 828.4,675.2 829.9,673.8 831.1,672.2 832.2,670.5 833,668.7 833.5,666.9 833.7,665.2 833.4,663.6 832.8,662.2 831.8,661.1 830.1,660.3 827.6,659.7 824.4,659.4 820.9,659.2 817.1,659 813.3,658.9 809.6,658.7 806.3,658.4 803.4,657.9 801.3,657.1 799.7,656 798.3,654.7 797.1,653.2 796.1,651.6 795.5,649.9 795.2,648.3 795.1,646.7 795.4,645.2 796.1,643.9 797.2,642.8 798.9,642 801.4,641.5 804.4,641.1 807.8,640.9 811.4,640.7 815.1,640.6 818.7,640.4 821.9,640 824.6,639.5 826.7,638.8 828.3,637.8 829.6,636.7 830.7,635.3 831.5,633.9 832.1,632.4 832.4,630.9 832.4,629.4 832.1,628 831.6,626.7 830.7,625.6 829.3,624.7 827.4,623.8 825,623.1 822.2,622.4 819.2,621.8 816.2,621.2 813.3,620.6 810.6,619.9 808.3,619.2 806.4,618.4 804.9,617.5 803.6,616.5 802.4,615.5 801.4,614.5 800.5,613.4 799.9,612.3 799.4,611.3 799.1,610.2 799.1,609.2 799.2,608.3 799.6,607.4 800.3,606.6 801.2,605.7 802.3,604.9 803.6,604.1 805,603.4 806.5,602.6 808.1,601.8 809.8,601 811.4,600.2 813.2,599.4 815.2,598.7 817.5,598 819.8,597.2 822.2,596.5 824.5,595.8 826.7,594.9 828.7,594.1 830.4,593.1 831.8,592 832.8,590.8 833.4,589.5 833.7,588 833.8,586.5 833.8,585 833.7,583.4 833.8,581.8 833.9,580.3 834.3,578.7 834.9,577.3 835.8,575.9 836.9,574.4 838.2,573 839.6,571.6 841,570.1 842.5,568.8 844,567.4 845.5,566.2 847,565 848.3,563.9 849.6,562.9 851.1,562.1 852.5,561.3 854,560.7 855.4,560 856.7,559.4 858,558.8 859,558.1 859.9,557.4 860.5,556.6 860.9,555.7 861.1,554.6 861.2,553.5 861.1,552.4 860.9,551.2 860.6,550.1 860.1,549.1 859.5,548.2 858.8,547.4 858,546.8 857,546.5 855.7,546.4 854.3,546.5 852.7,546.8 851,547.1 849.3,547.4 847.6,547.6 846,547.6 844.6,547.3 843.4,546.8 842.4,545.9 841.4,544.8 840.5,543.5 839.7,542 839,540.4 838.3,538.7 837.7,537 837.1,535.4 836.6,533.7 836.1,532.2 835.6,530.7 835.2,529.2 834.8,527.7 834.5,526.1 834.2,524.6 834,523.1 833.8,521.6 833.7,520.2 833.7,518.9 833.7,517.6 833.8,516.4 834,515.4 834.3,514.4 834.6,513.4 835,512.5 835.4,511.7 835.8,510.8 836.3,509.8 836.8,508.9 837.3,507.8 837.8,506.7 838.3,505.5 838.9,504.4 839.5,503.2 840.1,501.9 840.8,500.7 841.4,499.4 842.1,498.2 842.7,496.9 843.4,495.6 844.1,494.3 844.8,493 845.5,491.6 846.3,490.3 847,488.9 847.8,487.5 848.6,486.2 849.3,484.8 850,483.5 850.7,482.2 851.4,480.9 852.1,479.7 852.8,478.5 853.5,477.3 854.1,476.2 854.8,475 855.4,473.8 855.9,472.6 856.4,471.3 856.8,470 857.2,468.6 857.5,467.2 857.7,465.7 858,464.2 858.2,462.6 858.3,461.1 858.3,459.6 858.3,458.1 858.2,456.7 858,455.4 857.7,454.1 857.3,452.9 856.9,451.7 856.4,450.6 855.8,449.4 855.1,448.4 854.4,447.3 853.6,446.3 852.8,445.3 852,444.4 851.1,443.5 850.2,442.7 849.2,442 848.2,441.3 847.1,440.6 846,440 844.8,439.3 843.6,438.6 842.3,437.8 841,437 839.6,436.1 838.2,435.2 836.6,434.2 835.1,433.2 833.4,432.2 831.8,431.2 830.1,430.2 828.4,429.1 826.7,428.1 825,427 823.2,426 821.3,425 819.4,424 817.3,423.1 815.3,422.1 813.4,421 811.5,419.9 809.8,418.7 808.3,417.4 807,416 805.9,414.4 805,412.8 804.3,411 803.7,409.1 803.2,407.2 802.8,405.2 802.4,403.1 802.1,401.1 801.9,399 801.6,397 801.3,394.9 801.1,392.8 800.9,390.5 800.8,388.3 800.7,386 800.7,383.7 800.8,381.5 801,379.4 801.2,377.3 801.6,375.4 802.1,373.5 802.7,371.7 803.4,370 804.2,368.3 805.1,366.6 806.1,365 807.1,363.5 808.1,362.1 809.2,360.8 810.3,359.6 811.4,358.5 812.6,357.5 813.8,356.5 815.1,355.6 816.4,354.9 817.8,354.2 819.2,353.6 820.5,353.1 821.9,352.6 823.3,352.3 824.7,352.1 826.2,351.9 827.7,351.8 829.2,351.9 830.7,352 832.2,352.2 833.7,352.4 835.1,352.8 836.4,353.3 837.7,353.8 838.9,354.4 840,355.2 841,356.1 842,357 843,358 844,359.1 844.9,360.3 845.8,361.5 846.8,362.7 847.8,363.9 848.8,365.2 849.8,366.7 850.8,368.3 851.8,369.9 852.8,371.5 853.8,373.2 854.8,374.7 855.8,376.1 856.8,377.3 857.9,378.3 859.1,379.2 860.3,380.1 861.7,381 863.1,381.7 864.4,382.4 865.7,382.8 866.9,382.9 868,382.7 868.9,382.2 869.5,381.2 869.9,379.7 870,377.8 870,375.4 869.8,372.8 869.5,369.9 869.1,366.8 868.8,363.6 868.4,360.3 868.1,357.1 868,354 867.9,350.7 867.7,347 867.5,343 867.3,338.9 867.1,334.9 867,331 867,327.5 867.1,324.5 867.5,322.1 868,320.6 868.8,319.9 869.9,319.9 871.3,320.5 872.7,321.5 874.3,323 875.9,324.7 877.4,326.6 878.8,328.5 880.1,330.4 881,332.1 881.7,333.8 882.1,335.6 882.3,337.5 882.5,339.6 882.5,341.7 882.6,343.8 882.7,346 882.9,348.1 883.3,350.2 883.9,352.3 884.7,354.3 885.6,356.3 886.7,358.4 887.9,360.4 889.1,362.4 890.4,364.4 891.7,366.4 893,368.5 894.2,370.5 895.4,372.5 896.5,374.6 897.6,376.9 898.7,379.2 899.8,381.5 900.9,383.9 902.1,386.1 903.2,388.1 904.4,390 905.7,391.5 907,392.7 908.5,393.6 910.2,394.3 912,394.7 913.8,395 915.7,395.1 917.5,395 919.2,394.6 920.7,394.2 921.9,393.5 922.8,392.7 923.4,391.7 923.7,390.3 923.9,388.8 923.8,387 923.6,385.1 923.3,383.1 922.9,381 922.4,379 921.9,376.9 921.4,374.9 920.8,372.9 920,370.9 919.1,368.7 918.1,366.6 917,364.4 916,362.2 915,360.1 914.1,357.9 913.3,355.8 912.7,353.8 912.2,351.8 911.8,349.7 911.4,347.6 911.1,345.5 910.9,343.4 910.8,341.5 910.8,339.6 910.8,337.9 911,336.3 911.3,335 911.8,334 912.5,333.2 913.3,332.7 914.3,332.4 915.3,332.2 916.4,331.9 917.4,331.6 918.4,331.1 919.2,330.3 919.9,329.3 920.4,328 920.9,326.4 921.3,324.6 921.6,322.7 921.9,320.7 922.1,318.6 922.3,316.6 922.5,314.5 922.7,312.4 922.8,310.5 922.9,308.5 922.8,306.3 922.7,304 922.5,301.7 922.3,299.4 922.2,297.2 922.1,295.3 922.2,293.7 922.4,292.5 922.8,291.7 923.4,291.4 924.3,291.5 925.3,292 926.5,292.8 927.7,293.8 929,295 930.2,296.3 931.3,297.7 932.2,299.1 933,300.4 933.6,301.7 934,303.1 934.3,304.6 934.5,306.2 934.7,307.9 934.8,309.6 935,311.5 935.2,313.5 935.4,315.5 935.8,317.7 936.3,320.2 936.7,323.3 937.3,326.7 937.8,330.2 938.4,333.7 939,337.1 939.7,340.1 940.3,342.5 940.9,344.2 941.6,345.1 942.3,345 943,344.1 943.8,342.6 944.7,340.5 945.5,338.1 946.3,335.4 947,332.6 947.7,329.8 948.3,327.2 948.8,324.9 949.1,322.8 949.3,320.6 949.4,318.5 949.4,316.3 949.4,314.1 949.4,311.9 949.4,309.7 949.5,307.6 949.8,305.4 950.2,303.3 950.7,301.2 951.3,299 952,296.8 952.7,294.6 953.5,292.4 954.3,290.3 955.3,288.3 956.4,286.4 957.6,284.6 958.9,283.1 960.4,281.7 962.1,280.3 963.9,279.1 965.8,278 967.9,276.9 969.9,276.1 972,275.4 974,274.8 975.9,274.5 977.7,274.4 979.5,274.5 981.3,274.8 983.1,275.4 984.9,276.1 986.6,276.9 988.3,278 989.8,279.1 991.2,280.3 992.5,281.7 993.5,283.1 994.3,284.6 994.9,286.4 995.4,288.2 995.7,290.2 995.8,292.3 996,294.5 996,296.7 996.1,298.9 996.2,301.1 996.4,303.3 996.7,305.5 997,307.9 997.3,310.4 997.6,312.9 997.9,315.4 998.1,317.9 998.2,320.2 998.3,322.5 998.2,324.5 997.9,326.4 997.4,328 996.7,329.4 995.9,330.6 994.9,331.6 993.8,332.6 992.8,333.5 991.7,334.5 990.7,335.5 989.9,336.6 989.2,337.9 988.6,339.3 988,340.9 987.4,342.6 986.8,344.3 986.3,346 985.9,347.8 985.7,349.4 985.7,351 985.9,352.5 986.3,353.8 987,355 988,356 989.3,356.9 990.7,357.8 992.2,358.6 993.9,359.3 995.6,360 997.4,360.8 999.1,361.6 1000.7,362.4 1002.4,363.2 1004.2,364 1006.2,364.8 1008.2,365.5 1010.2,366.3 1012.1,367.1 1014,368 1015.6,368.9 1017,369.9 1018.1,371.1 1018.9,372.4 1019.6,373.8 1020,375.3 1020.3,376.9 1020.4,378.6 1020.4,380.3 1020.3,382 1020.1,383.7 1019.8,385.4 1019.5,387 1019,388.6 1018.4,390.2 1017.6,391.8 1016.7,393.4 1015.8,395 1014.8,396.6 1013.7,398.2 1012.7,399.7 1011.7,401.3 1010.8,402.8 1009.9,404.3 1009,405.7 1008.1,407.1 1007.2,408.5 1006.3,409.9 1005.4,411.2 1004.5,412.7 1003.7,414.1 1002.9,415.7 1002.2,417.3 1001.5,419 1000.8,420.9 1000.2,422.8 999.6,424.8 999,426.9 998.4,428.9 998,430.9 997.6,432.8 997.2,434.6 997,436.3 996.9,437.9 996.9,439.3 997.1,440.7 997.3,442 997.5,443.3 997.8,444.6 998.1,445.8 998.3,447.1 998.4,448.4 998.4,449.8 998.3,451.3 998.3,453 998.1,454.8 998,456.6 997.8,458.3 997.6,460 997.2,461.6 996.8,462.9 996.3,464 995.7,464.7 995,465.1 994.3,465.1 993.5,464.9 992.6,464.5 991.7,464 990.6,463.3 989.4,462.6 988.1,461.9 986.6,461.2 984.9,460.7 982.9,460.1 980.6,459.5 977.9,458.7 975.1,457.9 972.3,457.1 969.5,456.4 966.8,455.8 964.3,455.4 962.2,455.1 960.5,455.2 959.2,455.5 958.1,456.1 957.2,456.9 956.5,457.9 956,459 955.7,460.2 955.6,461.4 955.7,462.6 955.9,463.7 956.4,464.7 957.1,465.6 958.2,466.6 959.5,467.5 961.1,468.4 962.7,469.4 964.5,470.3 966.3,471.3 968.1,472.2 969.8,473.2 971.3,474.2 972.8,475.2 974.3,476.3 975.8,477.4 977.4,478.5 978.9,479.6 980.3,480.7 981.7,481.8 982.9,482.9 984,484 984.9,485 985.7,486 986.4,487 987.1,488.1 987.7,489.1 988.1,490.1 988.4,491.1 988.5,492 988.5,492.9 988.1,493.7 987.6,494.5 986.8,495.2 985.7,496 984.3,496.7 982.8,497.4 981.1,498 979.2,498.6 977.3,499.1 975.3,499.5 973.3,499.8 971.3,499.9 969.1,499.8 966.7,499.4 964,498.9 961.3,498.2 958.5,497.5 955.9,496.8 953.4,496.2 951.3,495.8 949.5,495.7 948.3,495.9 947.6,496.5 947.2,497.3 947.2,498.5 947.5,499.7 948,501.2 948.7,502.6 949.5,504.1 950.5,505.6 951.4,506.9 952.3,508.1 953.3,509.2 954.4,510.2 955.6,511.1 957,512 958.4,512.9 959.9,513.8 961.4,514.7 962.9,515.7 964.4,516.6 965.9,517.6 967.4,518.6 969.1,519.6 970.9,520.7 972.7,521.7 974.5,522.7 976.1,523.8 977.7,524.9 979,526 980.1,527.2 980.8,528.4 981.2,529.7 981.4,531.2 981.3,532.8 981,534.5 980.6,536.1 980,537.7 979.3,539.1 978.5,540.4 977.6,541.3 976.7,542 975.6,542.3 974.3,542.4 972.8,542.2 971.1,541.9 969.4,541.4 967.7,540.8 966,540.1 964.4,539.3 963,538.6 961.8,537.9 960.8,537.2 960,536.3 959.4,535.3 958.8,534.3 958.3,533.2 957.8,532.2 957.3,531.1 956.7,530.1 955.9,529.2 955,528.4 953.9,527.6 952.5,526.8 951,525.9 949.4,525.1 947.8,524.3 946.2,523.7 944.8,523.2 943.4,522.9 942.3,522.8 941.5,523 940.9,523.5 940.5,524.3 940.3,525.3 940.1,526.6 940.1,527.9 940.3,529.4 940.5,530.9 940.8,532.4 941.1,533.8 941.5,535.2 942,536.5 942.7,537.9 943.5,539.3 944.3,540.7 945.3,542.1 946.3,543.5 947.2,544.9 948.1,546.2 948.9,547.5 949.6,548.7 950.2,549.8 950.8,550.8 951.4,551.8 952,552.7 952.5,553.6 952.9,554.5 953.3,555.4 953.6,556.3 953.7,557.2 953.7,558.2 953.5,559.2 953.1,560.2 952.6,561.3 951.9,562.3 951.2,563.4 950.4,564.5 949.7,565.6 949.1,566.7 948.6,567.9 948.3,569.1 948.2,570.4 948.4,571.7 948.7,573.2 949.1,574.6 949.5,576.1 949.9,577.6 950.2,579 950.3,580.3 950.1,581.5 949.6,582.6 948.7,583.5 947.6,584.4 946.2,585.1 944.6,585.8 942.8,586.4 941.1,586.9 939.3,587.5 937.6,588.1 936.1,588.7 934.7,589.4 933.5,590.1 932.2,590.9 930.9,591.6 929.7,592.4 928.6,593.2 927.6,594 926.7,594.7 925.9,595.5 925.4,596.3 925,597 924.8,597.7 924.8,598.4 924.8,599.1 925,599.8 925.4,600.5 925.9,601.2 926.6,601.9 927.5,602.6 928.7,603.3 930,604 931.7,604.7 934,605.3 936.6,605.9 939.4,606.6 942.3,607.2 945.2,607.9 948,608.6 950.4,609.4 952.5,610.3 954,611.4 955.1,612.7 955.9,614.1 956.6,615.7 957,617.5 957.1,619.2 957,621 956.6,622.6 956,624.2 955.1,625.5 954,626.6 952.4,627.4 950.1,627.9 947.4,628.2 944.4,628.4 941.2,628.5 938.1,628.6 935,628.8 932.3,629.1 930.1,629.6 928.5,630.4 927.4,631.5 926.5,632.9 926,634.5 925.7,636.2 925.6,637.9 925.8,639.7 926.2,641.4 926.9,643 927.8,644.4 929,645.5 930.6,646.3 932.8,646.8 935.4,647.2 938.3,647.4 941.4,647.5 944.5,647.6 947.4,647.8 950.1,648.1 952.3,648.6 954,649.3 955.3,650.3 956.3,651.5 957.2,652.9 957.8,654.4 958.2,655.9 958.4,657.5 958.3,659 957.8,660.4 957.1,661.6 956,662.6 954.3,663.3 952,663.8 949.1,664 945.9,664.2 942.6,664.3 939.2,664.4 936,664.6 933.1,664.9 930.7,665.5 929,666.4 927.8,667.6 927,669.2 926.4,671.1 926.1,673.1 926.1,675.2 926.3,677.3 926.8,679.2 927.6,681 928.7,682.4 930,683.5 931.8,684.2 934.1,684.5 936.9,684.6 940.1,684.5 943.4,684.3 946.7,684 950,683.8 953,683.5 955.8,683.4 958,683.5 959.9,683.7 961.6,683.8 963.1,683.9 964.4,684 965.6,684.2 966.6,684.5 967.5,684.9 968.2,685.5 968.8,686.3 969.2,687.3 969.5,688.6 969.5,690.2 969.4,692 969.1,694 968.7,696.1 968.2,698.2 967.6,700.4 966.9,702.5 966.2,704.5 965.4,706.3 964.6,708 963.6,709.6 962.5,711.1 961.3,712.7 960.1,714.1 958.8,715.6 957.5,717.1 956.3,718.5 955.1,720 954,721.5 952.9,723 951.8,724.5 950.7,725.9 949.5,727.4 948.4,728.8 947.4,730.3 946.5,731.8 945.6,733.3 945,734.9 944.5,736.6 944.2,738.4 943.9,740.4 943.8,742.4 943.7,744.6 943.8,746.7 944,748.8 944.4,750.8 944.9,752.6 945.5,754.2 946.4,755.6 947.6,756.7 949.1,757.4 950.8,758 952.8,758.4 954.8,758.7 956.9,759 958.9,759.3 960.7,759.8 962.3,760.4 963.5,761.3 964.5,762.4 965.3,763.7 966,765.2 966.6,766.7 967.1,768.3 967.4,770 967.6,771.6 967.6,773.3 967.5,774.9 967.3,776.5 966.9,778 966.2,779.6 965.2,781.1 964.2,782.7 963,784.2 961.8,785.8 960.6,787.3 959.5,788.8 958.6,790.3 957.8,791.7 957.2,793.2 956.6,794.7 956.1,796.2 955.7,797.8 955.3,799.3 955,800.7 954.7,802 954.4,803.2 954.2,804.2 954,805" fill="none" stroke="#35631e" stroke-width="14" stroke-linejoin="round" stroke-linecap="round"/>
<g fill="#3f7d25" stroke="#33621c" stroke-width="1.5"><circle cx="648" cy="819.4" r="7.9"/><circle cx="641.1" cy="811.5" r="7.9"/><circle cx="637.6" cy="801.7" r="7.9"/><circle cx="638.4" cy="791.4" r="7.9"/><circle cx="646.4" cy="784.9" r="7.9"/><circle cx="655.5" cy="779.7" r="7.9"/><circle cx="655.9" cy="770.4" r="7.9"/><circle cx="649.6" cy="762" r="7.9"/><circle cx="645.4" cy="752.4" r="7.9"/><circle cx="647.2" cy="742.5" r="7.9"/><circle cx="654.7" cy="735.2" r="7.9"/><circle cx="664.9" cy="733.8" r="7.9"/><circle cx="672.6" cy="726.9" r="7.9"/><circle cx="679.5" cy="719" r="7.9"/><circle cx="688.6" cy="713.9" r="7.9"/><circle cx="698.5" cy="710.3" r="7.9"/><circle cx="705.8" cy="703.3" r="7.9"/><circle cx="704.8" cy="692.9" r="7.9"/><circle cx="697.4" cy="686.4" r="7.9"/><circle cx="686.9" cy="686.6" r="7.9"/><circle cx="676.5" cy="687.1" r="7.9"/><circle cx="669" cy="681.1" r="7.9"/><circle cx="669.5" cy="670.8" r="7.9"/><circle cx="678.2" cy="666.7" r="7.9"/><circle cx="688.7" cy="667.9" r="7.9"/><circle cx="699.1" cy="668.2" r="7.9"/><circle cx="704.5" cy="660" r="7.9"/><circle cx="703" cy="649.8" r="7.9"/><circle cx="693.8" cy="646.4" r="7.9"/><circle cx="683.4" cy="647.5" r="7.9"/><circle cx="673" cy="647.6" r="7.9"/><circle cx="668.4" cy="638.9" r="7.9"/><circle cx="672.5" cy="629.8" r="7.9"/><circle cx="682.8" cy="628.4" r="7.9"/><circle cx="693.3" cy="628.3" r="7.9"/><circle cx="702.7" cy="625.1" r="7.9"/><circle cx="701.9" cy="614.9" r="7.9"/><circle cx="693.3" cy="611.3" r="7.9"/><circle cx="682.8" cy="611.2" r="7.9"/><circle cx="672.8" cy="608" r="7.9"/><circle cx="663.7" cy="603" r="7.9"/><circle cx="657.8" cy="594.4" r="7.9"/><circle cx="654.4" cy="584.5" r="7.9"/><circle cx="652.6" cy="574.2" r="7.9"/><circle cx="653.2" cy="563.7" r="7.9"/><circle cx="656" cy="553.6" r="7.9"/><circle cx="660.4" cy="544.1" r="7.9"/><circle cx="666.2" cy="535.4" r="7.9"/><circle cx="674.4" cy="528.9" r="7.9"/><circle cx="684.3" cy="525.6" r="7.9"/><circle cx="694.8" cy="525.1" r="7.9"/><circle cx="705.3" cy="524.4" r="7.9"/><circle cx="715.7" cy="523.6" r="7.9"/><circle cx="726.2" cy="523.7" r="7.9"/><circle cx="736.5" cy="525.6" r="7.9"/><circle cx="746" cy="529.4" r="7.9"/><circle cx="750.3" cy="538.9" r="7.9"/><circle cx="752.9" cy="549.1" r="7.9"/><circle cx="754.7" cy="559.4" r="7.9"/><circle cx="755.8" cy="569.9" r="7.9"/><circle cx="756.7" cy="580.3" r="7.9"/><circle cx="754.8" cy="590.6" r="7.9"/><circle cx="748.9" cy="598.9" r="7.9"/><circle cx="742.8" cy="606.8" r="7.9"/><circle cx="742.2" cy="617.2" r="7.9"/><circle cx="750.7" cy="622.3" r="7.9"/><circle cx="761" cy="624.1" r="7.9"/><circle cx="768.2" cy="630.4" r="7.9"/><circle cx="760.6" cy="636.3" r="7.9"/><circle cx="750.2" cy="638.2" r="7.9"/><circle cx="741.8" cy="643.5" r="7.9"/><circle cx="741.7" cy="653.7" r="7.9"/><circle cx="750.9" cy="656.4" r="7.9"/><circle cx="761.4" cy="655.2" r="7.9"/><circle cx="768.3" cy="661.4" r="7.9"/><circle cx="767.6" cy="671.7" r="7.9"/><circle cx="758.3" cy="675" r="7.9"/><circle cx="747.8" cy="675.2" r="7.9"/><circle cx="740.5" cy="681.5" r="7.9"/><circle cx="743.1" cy="690.9" r="7.9"/><circle cx="753.4" cy="691.6" r="7.9"/><circle cx="763.9" cy="691.9" r="7.9"/><circle cx="772.4" cy="697.8" r="7.9"/><circle cx="776.9" cy="707.1" r="7.9"/><circle cx="772.3" cy="716.4" r="7.9"/><circle cx="774.2" cy="724.5" r="7.9"/><circle cx="784.4" cy="727.2" r="7.9"/><circle cx="794.8" cy="728.5" r="7.9"/><circle cx="805.3" cy="728" r="7.9"/><circle cx="815.6" cy="726.5" r="7.9"/><circle cx="825.8" cy="724" r="7.9"/><circle cx="832.2" cy="716.7" r="7.9"/><circle cx="831.4" cy="706.3" r="7.9"/><circle cx="827.2" cy="697.1" r="7.9"/><circle cx="817.1" cy="694.3" r="7.9"/><circle cx="806.7" cy="693.2" r="7.9"/><circle cx="796.9" cy="690" r="7.9"/><circle cx="797.3" cy="681.4" r="7.9"/><circle cx="807.6" cy="679.5" r="7.9"/><circle cx="818" cy="678.6" r="7.9"/><circle cx="828" cy="675.5" r="7.9"/><circle cx="833.5" cy="666.9" r="7.9"/><circle cx="827.9" cy="659.8" r="7.9"/><circle cx="817.4" cy="659" r="7.9"/><circle cx="806.9" cy="658.4" r="7.9"/><circle cx="797.7" cy="654.1" r="7.9"/><circle cx="795.9" cy="644.3" r="7.9"/><circle cx="805.4" cy="641.1" r="7.9"/><circle cx="815.9" cy="640.5" r="7.9"/><circle cx="826.2" cy="639" r="7.9"/><circle cx="832.3" cy="631" r="7.9"/><circle cx="826.5" cy="623.6" r="7.9"/><circle cx="816.3" cy="621.2" r="7.9"/><circle cx="806.3" cy="618.3" r="7.9"/><circle cx="799.3" cy="610.8" r="7.9"/><circle cx="805.1" cy="603.3" r="7.9"/><circle cx="814.7" cy="598.9" r="7.9"/><circle cx="824.7" cy="595.7" r="7.9"/><circle cx="833.1" cy="590" r="7.9"/><circle cx="834" cy="579.6" r="7.9"/><circle cx="840" cy="571.1" r="7.9"/><circle cx="847.9" cy="564.2" r="7.9"/><circle cx="857.1" cy="559.2" r="7.9"/><circle cx="860.7" cy="550.6" r="7.9"/><circle cx="852.4" cy="546.8" r="7.9"/><circle cx="842.4" cy="546" r="7.9"/><circle cx="837.6" cy="536.7" r="7.9"/><circle cx="834.6" cy="526.7" r="7.9"/><circle cx="833.8" cy="516.2" r="7.9"/><circle cx="837.9" cy="506.6" r="7.9"/><circle cx="842.6" cy="497.2" r="7.9"/><circle cx="847.6" cy="488" r="7.9"/><circle cx="852.6" cy="478.8" r="7.9"/><circle cx="857" cy="469.3" r="7.9"/><circle cx="858.3" cy="458.9" r="7.9"/><circle cx="855.4" cy="448.9" r="7.9"/><circle cx="848.3" cy="441.4" r="7.9"/><circle cx="839.3" cy="435.9" r="7.9"/><circle cx="830.4" cy="430.3" r="7.9"/><circle cx="821.4" cy="425" r="7.9"/><circle cx="812" cy="420.2" r="7.9"/><circle cx="805" cy="412.7" r="7.9"/><circle cx="802.3" cy="402.5" r="7.9"/><circle cx="801.1" cy="392.1" r="7.9"/><circle cx="800.8" cy="381.6" r="7.9"/><circle cx="802.9" cy="371.4" r="7.9"/><circle cx="808" cy="362.3" r="7.9"/><circle cx="815.7" cy="355.3" r="7.9"/><circle cx="825.6" cy="352" r="7.9"/><circle cx="836" cy="353.1" r="7.9"/><circle cx="844.2" cy="359.4" r="7.9"/><circle cx="850.5" cy="367.8" r="7.9"/><circle cx="856.2" cy="376.6" r="7.9"/><circle cx="864.8" cy="382.5" r="7.9"/><circle cx="870" cy="376.2" r="7.9"/><circle cx="869" cy="365.8" r="7.9"/><circle cx="868.1" cy="355.3" r="7.9"/><circle cx="867.6" cy="344.8" r="7.9"/><circle cx="867.1" cy="334.3" r="7.9"/><circle cx="867.2" cy="323.9" r="7.9"/><circle cx="874" cy="322.7" r="7.9"/><circle cx="880.4" cy="331" r="7.9"/><circle cx="882.5" cy="341.1" r="7.9"/><circle cx="883.7" cy="351.5" r="7.9"/><circle cx="888.2" cy="360.9" r="7.9"/><circle cx="893.8" cy="369.8" r="7.9"/><circle cx="898.7" cy="379.1" r="7.9"/><circle cx="903.4" cy="388.5" r="7.9"/><circle cx="911.5" cy="394.6" r="7.9"/><circle cx="921.7" cy="393.6" r="7.9"/><circle cx="923.4" cy="383.8" r="7.9"/><circle cx="921" cy="373.6" r="7.9"/><circle cx="916.9" cy="364" r="7.9"/><circle cx="912.9" cy="354.3" r="7.9"/><circle cx="911" cy="344" r="7.9"/><circle cx="912" cy="333.7" r="7.9"/><circle cx="920.3" cy="328.3" r="7.9"/><circle cx="922.2" cy="318" r="7.9"/><circle cx="922.8" cy="307.5" r="7.9"/><circle cx="922.2" cy="297" r="7.9"/><circle cx="927.3" cy="293.4" r="7.9"/><circle cx="933.5" cy="301.7" r="7.9"/><circle cx="935" cy="312.1" r="7.9"/><circle cx="936.6" cy="322.4" r="7.9"/><circle cx="938.3" cy="332.8" r="7.9"/><circle cx="940.5" cy="343" r="7.9"/><circle cx="945.4" cy="338.3" r="7.9"/><circle cx="948.1" cy="328.2" r="7.9"/><circle cx="949.4" cy="317.8" r="7.9"/><circle cx="949.6" cy="307.3" r="7.9"/><circle cx="951.9" cy="297.1" r="7.9"/><circle cx="955.8" cy="287.4" r="7.9"/><circle cx="962.9" cy="279.8" r="7.9"/><circle cx="972.4" cy="275.3" r="7.9"/><circle cx="982.7" cy="275.3" r="7.9"/><circle cx="991.5" cy="280.7" r="7.9"/><circle cx="995.6" cy="290.1" r="7.9"/><circle cx="996.2" cy="300.6" r="7.9"/><circle cx="997.4" cy="311" r="7.9"/><circle cx="998.3" cy="321.5" r="7.9"/><circle cx="995.3" cy="331.2" r="7.9"/><circle cx="988.7" cy="339.2" r="7.9"/><circle cx="985.7" cy="349.2" r="7.9"/><circle cx="990.6" cy="357.7" r="7.9"/><circle cx="1000.1" cy="362.1" r="7.9"/><circle cx="1009.8" cy="366.1" r="7.9"/><circle cx="1018.5" cy="371.7" r="7.9"/><circle cx="1020.3" cy="381.8" r="7.9"/><circle cx="1017.6" cy="391.9" r="7.9"/><circle cx="1012" cy="400.8" r="7.9"/><circle cx="1006.4" cy="409.6" r="7.9"/><circle cx="1001.6" cy="418.9" r="7.9"/><circle cx="998.4" cy="428.9" r="7.9"/><circle cx="996.9" cy="439.3" r="7.9"/><circle cx="998.4" cy="449.7" r="7.9"/><circle cx="997.5" cy="460.1" r="7.9"/><circle cx="990.7" cy="463.4" r="7.9"/><circle cx="981" cy="459.6" r="7.9"/><circle cx="970.9" cy="456.8" r="7.9"/><circle cx="960.6" cy="455.2" r="7.9"/><circle cx="955.8" cy="463.2" r="7.9"/><circle cx="963.6" cy="469.8" r="7.9"/><circle cx="972.6" cy="475.1" r="7.9"/><circle cx="981.1" cy="481.3" r="7.9"/><circle cx="987.8" cy="489.3" r="7.9"/><circle cx="983.4" cy="497.1" r="7.9"/><circle cx="973.3" cy="499.8" r="7.9"/><circle cx="962.9" cy="498.6" r="7.9"/><circle cx="952.8" cy="496.1" r="7.9"/><circle cx="948.1" cy="501.3" r="7.9"/><circle cx="954.1" cy="509.9" r="7.9"/><circle cx="962.9" cy="515.6" r="7.9"/><circle cx="971.8" cy="521.2" r="7.9"/><circle cx="980.2" cy="527.3" r="7.9"/><circle cx="980.1" cy="537.4" r="7.9"/><circle cx="972.1" cy="542.1" r="7.9"/><circle cx="962.4" cy="538.2" r="7.9"/><circle cx="956.4" cy="529.8" r="7.9"/><circle cx="947.6" cy="524.3" r="7.9"/><circle cx="940.1" cy="526.7" r="7.9"/><circle cx="942.2" cy="537" r="7.9"/><circle cx="947.8" cy="545.8" r="7.9"/><circle cx="953.1" cy="554.9" r="7.9"/><circle cx="950.5" cy="564.4" r="7.9"/><circle cx="949" cy="574.3" r="7.9"/><circle cx="948.2" cy="583.9" r="7.9"/><circle cx="938.5" cy="587.8" r="7.9"/><circle cx="929.2" cy="592.8" r="7.9"/><circle cx="925.9" cy="601.1" r="7.9"/><circle cx="935.2" cy="605.6" r="7.9"/><circle cx="945.4" cy="607.9" r="7.9"/><circle cx="954.8" cy="612.3" r="7.9"/><circle cx="956.7" cy="622.2" r="7.9"/><circle cx="949" cy="628" r="7.9"/><circle cx="938.5" cy="628.6" r="7.9"/><circle cx="928.4" cy="630.5" r="7.9"/><circle cx="925.9" cy="640.2" r="7.9"/><circle cx="933" cy="646.9" r="7.9"/><circle cx="943.5" cy="647.6" r="7.9"/><circle cx="953.8" cy="649.2" r="7.9"/><circle cx="958.3" cy="658.1" r="7.9"/><circle cx="950.9" cy="663.9" r="7.9"/><circle cx="940.4" cy="664.3" r="7.9"/><circle cx="930.1" cy="665.8" r="7.9"/><circle cx="926.1" cy="674.9" r="7.9"/><circle cx="930.6" cy="683.7" r="7.9"/><circle cx="941" cy="684.5" r="7.9"/><circle cx="951.5" cy="683.6" r="7.9"/><circle cx="961.9" cy="683.8" r="7.9"/><circle cx="969.5" cy="689.1" r="7.9"/><circle cx="967.9" cy="699.4" r="7.9"/><circle cx="963.9" cy="709.1" r="7.9"/><circle cx="957.3" cy="717.3" r="7.9"/><circle cx="950.9" cy="725.6" r="7.9"/><circle cx="945.2" cy="734.4" r="7.9"/><circle cx="943.7" cy="744.7" r="7.9"/><circle cx="945.9" cy="754.8" r="7.9"/><circle cx="955.2" cy="758.7" r="7.9"/><circle cx="964.6" cy="762.6" r="7.9"/><circle cx="967.6" cy="772.5" r="7.9"/><circle cx="964.4" cy="782.3" r="7.9"/><circle cx="958.3" cy="790.8" r="7.9"/><circle cx="955" cy="800.7" r="7.9"/></g>
<path d="M648,819.4 647.4,818.7 646.6,817.9 645.7,816.9 644.6,815.8 643.5,814.5 642.4,813.2 641.3,811.8 640.4,810.4 639.6,809 639,807.5 638.6,806 638.1,804.3 637.7,802.6 637.5,800.8 637.3,799 637.2,797.2 637.3,795.3 637.7,793.6 638.2,791.9 639,790.3 640.2,788.8 642,787.4 644.1,786.1 646.5,784.8 648.9,783.5 651.3,782.3 653.5,781 655.4,779.7 656.9,778.3 657.7,776.9 657.9,775.4 657.6,773.8 656.9,772.1 655.9,770.4 654.7,768.7 653.3,767 652,765.3 650.7,763.6 649.6,762 648.8,760.5 648.2,759 647.5,757.6 646.9,756.2 646.3,754.8 645.7,753.5 645.3,752.1 645,750.8 644.8,749.5 644.8,748.3 645,747 645.4,745.7 646,744.4 646.8,743 647.8,741.7 648.9,740.4 650,739.1 651.2,738 652.4,736.9 653.6,736 654.7,735.2 655.8,734.7 656.9,734.4 658,734.3 659.2,734.3 660.3,734.3 661.5,734.4 662.7,734.3 664,734.2 665.3,733.7 666.6,733 668,731.9 669.4,730.6 670.8,729 672.2,727.3 673.7,725.5 675.2,723.6 676.8,721.8 678.4,720.1 680,718.6 681.6,717.3 683.3,716.2 685.2,715.3 687.1,714.5 689.1,713.7 691,713.1 693,712.4 694.8,711.8 696.5,711.2 698.1,710.5 699.4,709.8 700.6,709.1 701.6,708.4 702.6,707.7 703.5,707 704.2,706.4 704.8,705.7 705.3,704.9 705.7,704 705.9,703.1 706,702 706,700.7 706,699.2 705.8,697.6 705.6,695.8 705.2,694.1 704.6,692.3 703.8,690.7 702.8,689.2 701.5,688 700,687 698,686.4 695.4,686.2 692.3,686.2 689,686.4 685.6,686.7 682.2,687 679,687.1 676.2,687.1 673.8,686.7 672,686 670.7,684.8 669.7,683.1 669,681.2 668.6,679 668.4,676.7 668.6,674.4 669,672.2 669.7,670.3 670.7,668.7 672,667.5 673.9,666.8 676.4,666.6 679.5,666.8 682.9,667.1 686.5,667.6 690.1,668.1 693.5,668.4 696.6,668.5 699.1,668.2 701,667.5 702.3,666.2 703.3,664.4 704,662.3 704.5,659.9 704.6,657.4 704.5,654.9 704,652.5 703.3,650.4 702.3,648.6 701,647.3 699.1,646.6 696.6,646.3 693.5,646.4 690.1,646.7 686.5,647.1 682.9,647.6 679.5,647.9 676.4,648.1 673.9,647.9 672,647.3 670.7,646.2 669.7,644.7 669,642.9 668.5,640.9 668.4,638.8 668.5,636.7 669,634.7 669.7,632.8 670.7,631.2 672,630 673.9,629.2 676.4,628.7 679.5,628.4 683,628.3 686.6,628.4 690.2,628.4 693.6,628.3 696.7,628.1 699.2,627.7 701,627 702.2,625.9 703,624.5 703.4,622.9 703.5,621.2 703.3,619.3 702.9,617.5 702.3,615.8 701.6,614.3 700.8,613 700,612 699,611.4 697.8,611.1 696.4,611 694.8,611.1 693.1,611.3 691.3,611.5 689.5,611.7 687.6,611.8 685.8,611.8 684,611.5 682.2,611.1 680.2,610.5 678.2,609.9 676.1,609.2 674,608.5 672,607.7 670,606.8 668.2,605.9 666.5,605 665,604 663.7,603 662.6,601.9 661.6,600.9 660.7,599.7 659.9,598.5 659.1,597.3 658.5,596 657.8,594.6 657.2,593.1 656.6,591.6 656,589.9 655.4,588.1 654.8,586.2 654.3,584.2 653.9,582.2 653.5,580.2 653.1,578.1 652.8,576.1 652.6,574.2 652.5,572.4 652.5,570.7 652.5,569 652.7,567.3 652.9,565.7 653.1,564.1 653.4,562.6 653.8,561 654.2,559.5 654.6,558.1 655,556.6 655.4,555.2 655.9,553.8 656.4,552.4 656.9,551 657.5,549.7 658.1,548.4 658.7,547.1 659.4,545.8 660.1,544.6 660.8,543.3 661.6,542 662.4,540.8 663.2,539.5 664,538.2 664.9,537 665.9,535.8 666.8,534.6 667.8,533.5 668.9,532.5 670,531.6 671.2,530.8 672.4,530 673.7,529.3 675,528.6 676.4,528 677.8,527.5 679.2,527 680.6,526.5 682,526.2 683.3,525.8 684.6,525.5 686,525.3 687.3,525.2 688.6,525.1 689.9,525.1 691.3,525.1 692.6,525.1 693.9,525.1 695.3,525.1 696.6,525 697.9,524.9 699.3,524.8 700.6,524.7 702,524.6 703.3,524.5 704.7,524.5 706,524.4 707.3,524.3 708.6,524.2 709.9,524.1 711.1,524 712.3,523.9 713.5,523.8 714.7,523.7 715.9,523.5 717,523.4 718.1,523.4 719.3,523.3 720.4,523.3 721.6,523.3 722.8,523.4 723.9,523.5 725.1,523.6 726.2,523.7 727.4,523.9 728.6,524.1 729.7,524.3 730.9,524.5 732,524.8 733.2,525 734.4,525.2 735.6,525.4 736.9,525.6 738.2,525.8 739.4,526 740.6,526.3 741.8,526.6 742.9,527.1 744,527.6 744.9,528.3 745.7,529.1 746.5,530 747.2,531.1 747.8,532.2 748.3,533.4 748.8,534.7 749.3,536 749.8,537.3 750.2,538.7 750.7,540 751.1,541.4 751.5,542.8 751.9,544.3 752.3,545.8 752.6,547.3 752.9,548.9 753.2,550.5 753.5,552 753.7,553.5 754,555 754.2,556.4 754.5,557.9 754.7,559.3 754.8,560.7 755,562.1 755.2,563.5 755.3,564.9 755.4,566.3 755.6,567.7 755.7,569.1 755.8,570.5 756,571.9 756.2,573.4 756.3,574.8 756.5,576.2 756.6,577.7 756.6,579.1 756.7,580.5 756.6,581.8 756.5,583.2 756.3,584.6 756.1,585.9 755.8,587.3 755.4,588.7 755,590 754.6,591.3 754.1,592.6 753.6,593.8 753,595 752.4,596 751.7,596.9 750.9,597.7 749.9,598.3 749,598.8 748,599.4 747,599.9 746.1,600.5 745.2,601.3 744.5,602.1 744,603.2 743.5,604.5 743,606 742.6,607.7 742.2,609.6 741.9,611.4 741.7,613.3 741.7,615.1 742,616.7 742.6,618.2 743.5,619.5 744.9,620.5 746.8,621.3 749.1,622 751.7,622.5 754.5,623 757.2,623.4 759.8,623.9 762.1,624.4 764.1,624.9 765.5,625.6 766.5,626.4 767.3,627.3 767.8,628.2 768.1,629.2 768.2,630.2 768.1,631.1 767.8,632.1 767.3,633 766.5,633.9 765.5,634.7 764.1,635.4 762.2,636 759.8,636.5 757.2,636.9 754.5,637.4 751.8,637.8 749.2,638.4 746.8,639 744.9,639.8 743.5,640.8 742.5,642 741.7,643.5 741.2,645.2 740.9,647 740.8,648.8 740.9,650.6 741.2,652.3 741.7,653.8 742.5,655.1 743.5,656 744.9,656.5 746.8,656.7 749.1,656.6 751.7,656.3 754.4,655.9 757.2,655.5 759.8,655.2 762.1,655.1 764.1,655.4 765.5,656 766.6,657.1 767.4,658.6 768.1,660.4 768.6,662.4 768.8,664.5 768.8,666.6 768.6,668.6 768.2,670.5 767.5,672.1 766.5,673.3 765.1,674.1 763.1,674.7 760.7,674.9 758,675 755.1,675 752.3,675 749.5,675.1 747.1,675.3 745,675.7 743.5,676.4 742.4,677.4 741.5,678.7 740.8,680.2 740.3,681.9 740.1,683.6 740.1,685.3 740.3,686.9 740.8,688.4 741.5,689.6 742.5,690.6 743.9,691.2 745.8,691.6 748.1,691.7 750.7,691.7 753.5,691.6 756.3,691.5 759.1,691.5 761.7,691.6 764.1,692 766,692.6 767.7,693.5 769.3,694.6 770.7,695.9 772.1,697.3 773.3,698.9 774.4,700.5 775.3,702.1 776,703.7 776.6,705.3 776.9,706.8 776.9,708.3 776.3,709.9 775.5,711.6 774.4,713.3 773.3,715 772.2,716.6 771.2,718.2 770.6,719.6 770.4,720.9 770.8,722.1 771.8,723.1 773.2,724 774.9,724.8 777,725.5 779.3,726.2 781.7,726.7 784.2,727.2 786.6,727.6 789,727.9 791.1,728.2 793.1,728.4 795.2,728.5 797.3,728.6 799.3,728.5 801.4,728.4 803.4,728.2 805.5,728 807.5,727.8 809.5,727.5 811.4,727.2 813.4,726.9 815.4,726.5 817.5,726.1 819.6,725.7 821.7,725.2 823.6,724.7 825.5,724.1 827.1,723.5 828.5,722.8 829.7,722.1 830.6,721.3 831.3,720.5 831.7,719.6 832.1,718.6 832.2,717.6 832.3,716.6 832.2,715.5 832.1,714.3 832,713.1 831.8,711.9 831.7,710.5 831.6,709 831.5,707.4 831.4,705.7 831.1,704 830.7,702.3 830.1,700.7 829.3,699.2 828.1,697.8 826.7,696.7 824.7,695.8 822.2,695.1 819.3,694.6 816.1,694.2 812.8,693.8 809.4,693.5 806.3,693.2 803.4,692.8 801,692.3 799.2,691.6 797.8,690.8 796.7,689.8 795.7,688.8 795.1,687.6 794.6,686.5 794.5,685.4 794.7,684.2 795.2,683.2 796,682.2 797.2,681.4 799,680.7 801.5,680.2 804.5,679.8 807.9,679.5 811.5,679.2 815.1,678.9 818.7,678.5 821.9,678 824.6,677.3 826.7,676.4 828.4,675.2 829.9,673.8 831.1,672.2 832.2,670.5 833,668.7 833.5,666.9 833.7,665.2 833.4,663.6 832.8,662.2 831.8,661.1 830.1,660.3 827.6,659.7 824.4,659.4 820.9,659.2 817.1,659 813.3,658.9 809.6,658.7 806.3,658.4 803.4,657.9 801.3,657.1 799.7,656 798.3,654.7 797.1,653.2 796.1,651.6 795.5,649.9 795.2,648.3 795.1,646.7 795.4,645.2 796.1,643.9 797.2,642.8 798.9,642 801.4,641.5 804.4,641.1 807.8,640.9 811.4,640.7 815.1,640.6 818.7,640.4 821.9,640 824.6,639.5 826.7,638.8 828.3,637.8 829.6,636.7 830.7,635.3 831.5,633.9 832.1,632.4 832.4,630.9 832.4,629.4 832.1,628 831.6,626.7 830.7,625.6 829.3,624.7 827.4,623.8 825,623.1 822.2,622.4 819.2,621.8 816.2,621.2 813.3,620.6 810.6,619.9 808.3,619.2 806.4,618.4 804.9,617.5 803.6,616.5 802.4,615.5 801.4,614.5 800.5,613.4 799.9,612.3 799.4,611.3 799.1,610.2 799.1,609.2 799.2,608.3 799.6,607.4 800.3,606.6 801.2,605.7 802.3,604.9 803.6,604.1 805,603.4 806.5,602.6 808.1,601.8 809.8,601 811.4,600.2 813.2,599.4 815.2,598.7 817.5,598 819.8,597.2 822.2,596.5 824.5,595.8 826.7,594.9 828.7,594.1 830.4,593.1 831.8,592 832.8,590.8 833.4,589.5 833.7,588 833.8,586.5 833.8,585 833.7,583.4 833.8,581.8 833.9,580.3 834.3,578.7 834.9,577.3 835.8,575.9 836.9,574.4 838.2,573 839.6,571.6 841,570.1 842.5,568.8 844,567.4 845.5,566.2 847,565 848.3,563.9 849.6,562.9 851.1,562.1 852.5,561.3 854,560.7 855.4,560 856.7,559.4 858,558.8 859,558.1 859.9,557.4 860.5,556.6 860.9,555.7 861.1,554.6 861.2,553.5 861.1,552.4 860.9,551.2 860.6,550.1 860.1,549.1 859.5,548.2 858.8,547.4 858,546.8 857,546.5 855.7,546.4 854.3,546.5 852.7,546.8 851,547.1 849.3,547.4 847.6,547.6 846,547.6 844.6,547.3 843.4,546.8 842.4,545.9 841.4,544.8 840.5,543.5 839.7,542 839,540.4 838.3,538.7 837.7,537 837.1,535.4 836.6,533.7 836.1,532.2 835.6,530.7 835.2,529.2 834.8,527.7 834.5,526.1 834.2,524.6 834,523.1 833.8,521.6 833.7,520.2 833.7,518.9 833.7,517.6 833.8,516.4 834,515.4 834.3,514.4 834.6,513.4 835,512.5 835.4,511.7 835.8,510.8 836.3,509.8 836.8,508.9 837.3,507.8 837.8,506.7 838.3,505.5 838.9,504.4 839.5,503.2 840.1,501.9 840.8,500.7 841.4,499.4 842.1,498.2 842.7,496.9 843.4,495.6 844.1,494.3 844.8,493 845.5,491.6 846.3,490.3 847,488.9 847.8,487.5 848.6,486.2 849.3,484.8 850,483.5 850.7,482.2 851.4,480.9 852.1,479.7 852.8,478.5 853.5,477.3 854.1,476.2 854.8,475 855.4,473.8 855.9,472.6 856.4,471.3 856.8,470 857.2,468.6 857.5,467.2 857.7,465.7 858,464.2 858.2,462.6 858.3,461.1 858.3,459.6 858.3,458.1 858.2,456.7 858,455.4 857.7,454.1 857.3,452.9 856.9,451.7 856.4,450.6 855.8,449.4 855.1,448.4 854.4,447.3 853.6,446.3 852.8,445.3 852,444.4 851.1,443.5 850.2,442.7 849.2,442 848.2,441.3 847.1,440.6 846,440 844.8,439.3 843.6,438.6 842.3,437.8 841,437 839.6,436.1 838.2,435.2 836.6,434.2 835.1,433.2 833.4,432.2 831.8,431.2 830.1,430.2 828.4,429.1 826.7,428.1 825,427 823.2,426 821.3,425 819.4,424 817.3,423.1 815.3,422.1 813.4,421 811.5,419.9 809.8,418.7 808.3,417.4 807,416 805.9,414.4 805,412.8 804.3,411 803.7,409.1 803.2,407.2 802.8,405.2 802.4,403.1 802.1,401.1 801.9,399 801.6,397 801.3,394.9 801.1,392.8 800.9,390.5 800.8,388.3 800.7,386 800.7,383.7 800.8,381.5 801,379.4 801.2,377.3 801.6,375.4 802.1,373.5 802.7,371.7 803.4,370 804.2,368.3 805.1,366.6 806.1,365 807.1,363.5 808.1,362.1 809.2,360.8 810.3,359.6 811.4,358.5 812.6,357.5 813.8,356.5 815.1,355.6 816.4,354.9 817.8,354.2 819.2,353.6 820.5,353.1 821.9,352.6 823.3,352.3 824.7,352.1 826.2,351.9 827.7,351.8 829.2,351.9 830.7,352 832.2,352.2 833.7,352.4 835.1,352.8 836.4,353.3 837.7,353.8 838.9,354.4 840,355.2 841,356.1 842,357 843,358 844,359.1 844.9,360.3 845.8,361.5 846.8,362.7 847.8,363.9 848.8,365.2 849.8,366.7 850.8,368.3 851.8,369.9 852.8,371.5 853.8,373.2 854.8,374.7 855.8,376.1 856.8,377.3 857.9,378.3 859.1,379.2 860.3,380.1 861.7,381 863.1,381.7 864.4,382.4 865.7,382.8 866.9,382.9 868,382.7 868.9,382.2 869.5,381.2 869.9,379.7 870,377.8 870,375.4 869.8,372.8 869.5,369.9 869.1,366.8 868.8,363.6 868.4,360.3 868.1,357.1 868,354 867.9,350.7 867.7,347 867.5,343 867.3,338.9 867.1,334.9 867,331 867,327.5 867.1,324.5 867.5,322.1 868,320.6 868.8,319.9 869.9,319.9 871.3,320.5 872.7,321.5 874.3,323 875.9,324.7 877.4,326.6 878.8,328.5 880.1,330.4 881,332.1 881.7,333.8 882.1,335.6 882.3,337.5 882.5,339.6 882.5,341.7 882.6,343.8 882.7,346 882.9,348.1 883.3,350.2 883.9,352.3 884.7,354.3 885.6,356.3 886.7,358.4 887.9,360.4 889.1,362.4 890.4,364.4 891.7,366.4 893,368.5 894.2,370.5 895.4,372.5 896.5,374.6 897.6,376.9 898.7,379.2 899.8,381.5 900.9,383.9 902.1,386.1 903.2,388.1 904.4,390 905.7,391.5 907,392.7 908.5,393.6 910.2,394.3 912,394.7 913.8,395 915.7,395.1 917.5,395 919.2,394.6 920.7,394.2 921.9,393.5 922.8,392.7 923.4,391.7 923.7,390.3 923.9,388.8 923.8,387 923.6,385.1 923.3,383.1 922.9,381 922.4,379 921.9,376.9 921.4,374.9 920.8,372.9 920,370.9 919.1,368.7 918.1,366.6 917,364.4 916,362.2 915,360.1 914.1,357.9 913.3,355.8 912.7,353.8 912.2,351.8 911.8,349.7 911.4,347.6 911.1,345.5 910.9,343.4 910.8,341.5 910.8,339.6 910.8,337.9 911,336.3 911.3,335 911.8,334 912.5,333.2 913.3,332.7 914.3,332.4 915.3,332.2 916.4,331.9 917.4,331.6 918.4,331.1 919.2,330.3 919.9,329.3 920.4,328 920.9,326.4 921.3,324.6 921.6,322.7 921.9,320.7 922.1,318.6 922.3,316.6 922.5,314.5 922.7,312.4 922.8,310.5 922.9,308.5 922.8,306.3 922.7,304 922.5,301.7 922.3,299.4 922.2,297.2 922.1,295.3 922.2,293.7 922.4,292.5 922.8,291.7 923.4,291.4 924.3,291.5 925.3,292 926.5,292.8 927.7,293.8 929,295 930.2,296.3 931.3,297.7 932.2,299.1 933,300.4 933.6,301.7 934,303.1 934.3,304.6 934.5,306.2 934.7,307.9 934.8,309.6 935,311.5 935.2,313.5 935.4,315.5 935.8,317.7 936.3,320.2 936.7,323.3 937.3,326.7 937.8,330.2 938.4,333.7 939,337.1 939.7,340.1 940.3,342.5 940.9,344.2 941.6,345.1 942.3,345 943,344.1 943.8,342.6 944.7,340.5 945.5,338.1 946.3,335.4 947,332.6 947.7,329.8 948.3,327.2 948.8,324.9 949.1,322.8 949.3,320.6 949.4,318.5 949.4,316.3 949.4,314.1 949.4,311.9 949.4,309.7 949.5,307.6 949.8,305.4 950.2,303.3 950.7,301.2 951.3,299 952,296.8 952.7,294.6 953.5,292.4 954.3,290.3 955.3,288.3 956.4,286.4 957.6,284.6 958.9,283.1 960.4,281.7 962.1,280.3 963.9,279.1 965.8,278 967.9,276.9 969.9,276.1 972,275.4 974,274.8 975.9,274.5 977.7,274.4 979.5,274.5 981.3,274.8 983.1,275.4 984.9,276.1 986.6,276.9 988.3,278 989.8,279.1 991.2,280.3 992.5,281.7 993.5,283.1 994.3,284.6 994.9,286.4 995.4,288.2 995.7,290.2 995.8,292.3 996,294.5 996,296.7 996.1,298.9 996.2,301.1 996.4,303.3 996.7,305.5 997,307.9 997.3,310.4 997.6,312.9 997.9,315.4 998.1,317.9 998.2,320.2 998.3,322.5 998.2,324.5 997.9,326.4 997.4,328 996.7,329.4 995.9,330.6 994.9,331.6 993.8,332.6 992.8,333.5 991.7,334.5 990.7,335.5 989.9,336.6 989.2,337.9 988.6,339.3 988,340.9 987.4,342.6 986.8,344.3 986.3,346 985.9,347.8 985.7,349.4 985.7,351 985.9,352.5 986.3,353.8 987,355 988,356 989.3,356.9 990.7,357.8 992.2,358.6 993.9,359.3 995.6,360 997.4,360.8 999.1,361.6 1000.7,362.4 1002.4,363.2 1004.2,364 1006.2,364.8 1008.2,365.5 1010.2,366.3 1012.1,367.1 1014,368 1015.6,368.9 1017,369.9 1018.1,371.1 1018.9,372.4 1019.6,373.8 1020,375.3 1020.3,376.9 1020.4,378.6 1020.4,380.3 1020.3,382 1020.1,383.7 1019.8,385.4 1019.5,387 1019,388.6 1018.4,390.2 1017.6,391.8 1016.7,393.4 1015.8,395 1014.8,396.6 1013.7,398.2 1012.7,399.7 1011.7,401.3 1010.8,402.8 1009.9,404.3 1009,405.7 1008.1,407.1 1007.2,408.5 1006.3,409.9 1005.4,411.2 1004.5,412.7 1003.7,414.1 1002.9,415.7 1002.2,417.3 1001.5,419 1000.8,420.9 1000.2,422.8 999.6,424.8 999,426.9 998.4,428.9 998,430.9 997.6,432.8 997.2,434.6 997,436.3 996.9,437.9 996.9,439.3 997.1,440.7 997.3,442 997.5,443.3 997.8,444.6 998.1,445.8 998.3,447.1 998.4,448.4 998.4,449.8 998.3,451.3 998.3,453 998.1,454.8 998,456.6 997.8,458.3 997.6,460 997.2,461.6 996.8,462.9 996.3,464 995.7,464.7 995,465.1 994.3,465.1 993.5,464.9 992.6,464.5 991.7,464 990.6,463.3 989.4,462.6 988.1,461.9 986.6,461.2 984.9,460.7 982.9,460.1 980.6,459.5 977.9,458.7 975.1,457.9 972.3,457.1 969.5,456.4 966.8,455.8 964.3,455.4 962.2,455.1 960.5,455.2 959.2,455.5 958.1,456.1 957.2,456.9 956.5,457.9 956,459 955.7,460.2 955.6,461.4 955.7,462.6 955.9,463.7 956.4,464.7 957.1,465.6 958.2,466.6 959.5,467.5 961.1,468.4 962.7,469.4 964.5,470.3 966.3,471.3 968.1,472.2 969.8,473.2 971.3,474.2 972.8,475.2 974.3,476.3 975.8,477.4 977.4,478.5 978.9,479.6 980.3,480.7 981.7,481.8 982.9,482.9 984,484 984.9,485 985.7,486 986.4,487 987.1,488.1 987.7,489.1 988.1,490.1 988.4,491.1 988.5,492 988.5,492.9 988.1,493.7 987.6,494.5 986.8,495.2 985.7,496 984.3,496.7 982.8,497.4 981.1,498 979.2,498.6 977.3,499.1 975.3,499.5 973.3,499.8 971.3,499.9 969.1,499.8 966.7,499.4 964,498.9 961.3,498.2 958.5,497.5 955.9,496.8 953.4,496.2 951.3,495.8 949.5,495.7 948.3,495.9 947.6,496.5 947.2,497.3 947.2,498.5 947.5,499.7 948,501.2 948.7,502.6 949.5,504.1 950.5,505.6 951.4,506.9 952.3,508.1 953.3,509.2 954.4,510.2 955.6,511.1 957,512 958.4,512.9 959.9,513.8 961.4,514.7 962.9,515.7 964.4,516.6 965.9,517.6 967.4,518.6 969.1,519.6 970.9,520.7 972.7,521.7 974.5,522.7 976.1,523.8 977.7,524.9 979,526 980.1,527.2 980.8,528.4 981.2,529.7 981.4,531.2 981.3,532.8 981,534.5 980.6,536.1 980,537.7 979.3,539.1 978.5,540.4 977.6,541.3 976.7,542 975.6,542.3 974.3,542.4 972.8,542.2 971.1,541.9 969.4,541.4 967.7,540.8 966,540.1 964.4,539.3 963,538.6 961.8,537.9 960.8,537.2 960,536.3 959.4,535.3 958.8,534.3 958.3,533.2 957.8,532.2 957.3,531.1 956.7,530.1 955.9,529.2 955,528.4 953.9,527.6 952.5,526.8 951,525.9 949.4,525.1 947.8,524.3 946.2,523.7 944.8,523.2 943.4,522.9 942.3,522.8 941.5,523 940.9,523.5 940.5,524.3 940.3,525.3 940.1,526.6 940.1,527.9 940.3,529.4 940.5,530.9 940.8,532.4 941.1,533.8 941.5,535.2 942,536.5 942.7,537.9 943.5,539.3 944.3,540.7 945.3,542.1 946.3,543.5 947.2,544.9 948.1,546.2 948.9,547.5 949.6,548.7 950.2,549.8 950.8,550.8 951.4,551.8 952,552.7 952.5,553.6 952.9,554.5 953.3,555.4 953.6,556.3 953.7,557.2 953.7,558.2 953.5,559.2 953.1,560.2 952.6,561.3 951.9,562.3 951.2,563.4 950.4,564.5 949.7,565.6 949.1,566.7 948.6,567.9 948.3,569.1 948.2,570.4 948.4,571.7 948.7,573.2 949.1,574.6 949.5,576.1 949.9,577.6 950.2,579 950.3,580.3 950.1,581.5 949.6,582.6 948.7,583.5 947.6,584.4 946.2,585.1 944.6,585.8 942.8,586.4 941.1,586.9 939.3,587.5 937.6,588.1 936.1,588.7 934.7,589.4 933.5,590.1 932.2,590.9 930.9,591.6 929.7,592.4 928.6,593.2 927.6,594 926.7,594.7 925.9,595.5 925.4,596.3 925,597 924.8,597.7 924.8,598.4 924.8,599.1 925,599.8 925.4,600.5 925.9,601.2 926.6,601.9 927.5,602.6 928.7,603.3 930,604 931.7,604.7 934,605.3 936.6,605.9 939.4,606.6 942.3,607.2 945.2,607.9 948,608.6 950.4,609.4 952.5,610.3 954,611.4 955.1,612.7 955.9,614.1 956.6,615.7 957,617.5 957.1,619.2 957,621 956.6,622.6 956,624.2 955.1,625.5 954,626.6 952.4,627.4 950.1,627.9 947.4,628.2 944.4,628.4 941.2,628.5 938.1,628.6 935,628.8 932.3,629.1 930.1,629.6 928.5,630.4 927.4,631.5 926.5,632.9 926,634.5 925.7,636.2 925.6,637.9 925.8,639.7 926.2,641.4 926.9,643 927.8,644.4 929,645.5 930.6,646.3 932.8,646.8 935.4,647.2 938.3,647.4 941.4,647.5 944.5,647.6 947.4,647.8 950.1,648.1 952.3,648.6 954,649.3 955.3,650.3 956.3,651.5 957.2,652.9 957.8,654.4 958.2,655.9 958.4,657.5 958.3,659 957.8,660.4 957.1,661.6 956,662.6 954.3,663.3 952,663.8 949.1,664 945.9,664.2 942.6,664.3 939.2,664.4 936,664.6 933.1,664.9 930.7,665.5 929,666.4 927.8,667.6 927,669.2 926.4,671.1 926.1,673.1 926.1,675.2 926.3,677.3 926.8,679.2 927.6,681 928.7,682.4 930,683.5 931.8,684.2 934.1,684.5 936.9,684.6 940.1,684.5 943.4,684.3 946.7,684 950,683.8 953,683.5 955.8,683.4 958,683.5 959.9,683.7 961.6,683.8 963.1,683.9 964.4,684 965.6,684.2 966.6,684.5 967.5,684.9 968.2,685.5 968.8,686.3 969.2,687.3 969.5,688.6 969.5,690.2 969.4,692 969.1,694 968.7,696.1 968.2,698.2 967.6,700.4 966.9,702.5 966.2,704.5 965.4,706.3 964.6,708 963.6,709.6 962.5,711.1 961.3,712.7 960.1,714.1 958.8,715.6 957.5,717.1 956.3,718.5 955.1,720 954,721.5 952.9,723 951.8,724.5 950.7,725.9 949.5,727.4 948.4,728.8 947.4,730.3 946.5,731.8 945.6,733.3 945,734.9 944.5,736.6 944.2,738.4 943.9,740.4 943.8,742.4 943.7,744.6 943.8,746.7 944,748.8 944.4,750.8 944.9,752.6 945.5,754.2 946.4,755.6 947.6,756.7 949.1,757.4 950.8,758 952.8,758.4 954.8,758.7 956.9,759 958.9,759.3 960.7,759.8 962.3,760.4 963.5,761.3 964.5,762.4 965.3,763.7 966,765.2 966.6,766.7 967.1,768.3 967.4,770 967.6,771.6 967.6,773.3 967.5,774.9 967.3,776.5 966.9,778 966.2,779.6 965.2,781.1 964.2,782.7 963,784.2 961.8,785.8 960.6,787.3 959.5,788.8 958.6,790.3 957.8,791.7 957.2,793.2 956.6,794.7 956.1,796.2 955.7,797.8 955.3,799.3 955,800.7 954.7,802 954.4,803.2 954.2,804.2 954,805" fill="none" stroke="#3f7d25" stroke-width="9" stroke-linejoin="round" stroke-linecap="round"/>
<g stroke="#1a1a1a" stroke-width="2.2" fill="none"><path d="M651.8,826C650,834 646,843 644.2,852"/><path d="M953.9,810C954,818 951,828 945.2,843.3"/></g>
<g fill="#f6f6f6" stroke="#111" stroke-width="3.3" stroke-linejoin="miter"><polygon points="308.5,844.2 368.1,925.5 526.6,810.3 645.9,972.9 490,1089.5 548.3,1170.8 296.3,1104.4"/><polygon points="857.6,962.5 1059.7,962.5 1059.7,1157.5 1161.7,1157.5 959,1321.8 755.5,1157.5 857.6,1157.5"/><polygon points="1405.9,800.6 1549.9,934 1618.6,858.7 1604,1118.9 1345.1,1158.6 1413.8,1083.3 1268.5,949.8"/></g>
<text transform="translate(446.4,941.6) scale(1,1.085)" font-family="Liberation Sans" font-size="53.5" font-weight="normal" fill="#111">FAK</text>
<text transform="translate(346.2,1062.4) scale(1.02,1.085)" font-family="Liberation Sans" font-size="53.5" font-weight="normal" fill="#111">RhoA</text>
<text transform="translate(895.5,1048.3) scale(1.019,1.085)" font-family="Liberation Sans" font-size="53.5" font-weight="normal" fill="#111">MAPK</text>
<text transform="translate(880.8,1162) scale(1,1.085)" font-family="Liberation Sans" font-size="53.5" font-weight="normal" fill="#111">Wnt</text>
<text transform="translate(904.8,1255.7) scale(1,1.085)" font-family="Liberation Sans" font-size="53.5" font-weight="normal" fill="#111">ERK</text>
<text transform="translate(1360.6,914.2) scale(1,1.085)" font-family="Liberation Sans" font-size="53.5" font-weight="normal" fill="#111">PI3K</text>
<text transform="translate(1334.2,993.4) scale(1,1.085)" font-family="Liberation Sans" font-size="53.5" font-weight="normal" fill="#111">PDK</text>
<g fill="#111" stroke="#111"><rect x="1458.6" y="953.6" width="4.9" height="39.8" stroke="none"/><path d="M1461.5,955.5 L1450.7,963.8" stroke-width="4.2" fill="none" stroke-linecap="butt"/></g>
<text transform="translate(1502.3,1004) scale(0.983,1.085)" font-family="Liberation Sans" font-size="53.5" font-weight="normal" fill="#111">AKT</text>
<text transform="translate(1447.7,1091.5) scale(1,1.085)" font-family="Liberation Sans" font-size="53.5" font-weight="normal" fill="#111">NF</text>
<text transform="translate(1519.5,1091.5) scale(1,1.085)" font-family="Liberation Serif" font-size="53.5" font-weight="normal" fill="#111" font-style="italic">&#954;</text>
<text transform="translate(1546.7,1091.5) scale(1,1.085)" font-family="Liberation Sans" font-size="53.5" font-weight="normal" fill="#111">B</text>
<text transform="translate(33.3,1231.8) scale(1.012,1.085)" font-family="Liberation Sans" font-size="53.5" font-weight="normal" fill="#111">CELL ADHESION,</text>
<text transform="translate(33,1295.2) scale(1,1.085)" font-family="Liberation Sans" font-size="53.5" font-weight="normal" fill="#111">MIGRATION AND</text>
<text transform="translate(33,1357.8) scale(1,1.085)" font-family="Liberation Sans" font-size="53.5" font-weight="normal" fill="#111">MOTILITY</text>
<text transform="translate(710.4,1347.5) scale(1,1.085)" font-family="Liberation Sans" font-size="53.5" font-weight="normal" fill="#111">CELL</text>
<text transform="translate(710.2,1410) scale(1,1.085)" font-family="Liberation Sans" font-size="53.5" font-weight="normal" fill="#111">PROLIFERATION</text>
<text transform="translate(1361,1227.4) scale(1,1.085)" font-family="Liberation Sans" font-size="53.5" font-weight="normal" fill="#111">CELL SURVIVAL</text>
<text transform="translate(456,155) scale(1,1.06)" font-family="Liberation Sans" font-size="44.5" font-weight="normal" fill="#f0a01c" stroke="#f0a01c" stroke-width="1.4" letter-spacing="0.9">TIMP-</text>
<g fill="#f0a01c" stroke="#f0a01c"><rect x="593.2" y="121.6" width="6" height="34.1" stroke="none"/><path d="M596.8,123.8 L585.8,133.6" stroke-width="5" fill="none" stroke-linecap="butt"/></g>
<text transform="translate(480.2,537.6) scale(1,1.03)" font-family="Liberation Sans" font-size="46.6" font-weight="normal" fill="#3e7b22" stroke="#3e7b22" stroke-width="1.4">CD63</text>
<text transform="translate(1104.5,493.8)" font-family="Liberation Sans" font-size="46.9" font-weight="normal" fill="#8c1620" stroke="#8c1620" stroke-width="1.8">&#946;</text>
<g fill="#8c1620" stroke="#8c1620"><rect x="1145" y="460.3" width="5.9" height="34.1" stroke="none"/><path d="M1148.5,462.4 L1138,472.2" stroke-width="4.6" fill="none" stroke-linecap="butt"/></g>
<text transform="translate(1159.5,493.8)" font-family="Liberation Sans" font-size="46.9" font-weight="normal" fill="#8c1620" stroke="#8c1620" stroke-width="1.8" letter-spacing="1.7">-integrin</text>
<text transform="translate(1022.5,865.2) scale(1,1.04)" font-family="Liberation Sans" font-size="31.4" font-weight="normal" fill="#111">COOH</text>
<text transform="translate(889.5,878) rotate(-4.5)" font-family="Liberation Sans" font-size="31" font-weight="normal" fill="#111">COOH</text>
<g transform="translate(627,879.5) rotate(-6.5)"><text transform="translate(-2.5,0) scale(1,1.05)" font-family="Liberation Sans" font-size="31" font-weight="normal" fill="#111">NH</text><text transform="translate(43.5,12.5) scale(1,1.05)" font-family="Liberation Sans" font-size="19" font-weight="normal" fill="#111">2</text></g></svg>
</body></html>
